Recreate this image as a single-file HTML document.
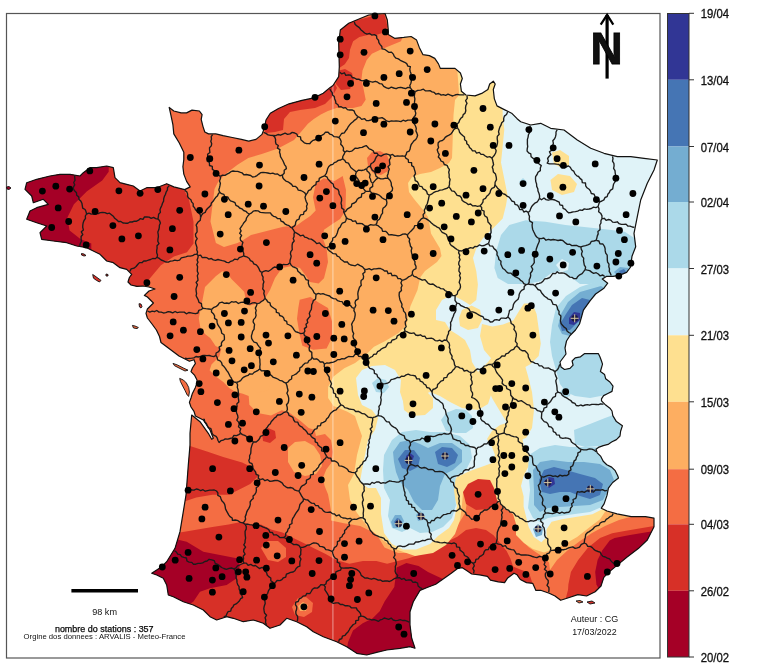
<!DOCTYPE html>
<html><head><meta charset="utf-8"><style>
html,body{margin:0;padding:0;background:#fff;width:766px;height:667px;overflow:hidden}
svg{position:absolute;left:0;top:0;display:block}
text{font-family:"Liberation Sans",Arial,sans-serif;fill:#111}
</style></head><body>
<svg width="766" height="667" viewBox="0 0 766 667">
<defs><clipPath id="fr"><path d="M385.0,13.5 L387.3,20.0 L388.2,29.0 L388.2,34.6 L394.6,38.3 L403.8,37.4 L411.1,36.5 L416.6,40.1 L419.3,47.4 L423.0,54.7 L429.4,55.6 L434.8,58.4 L438.5,63.9 L440.3,68.4 L447.6,68.4 L455.0,68.4 L460.4,73.0 L462.3,78.5 L460.4,84.0 L461.4,91.3 L465.9,95.0 L475.0,95.9 L482.4,93.1 L487.9,89.5 L489.7,84.0 L493.3,81.2 L495.2,84.0 L493.3,89.5 L494.3,98.6 L497.0,105.9 L504.3,109.6 L511.6,113.2 L517.1,118.7 L520.7,121.7 L530.7,125.0 L540.7,123.3 L550.7,128.3 L564.0,130.0 L577.3,140.0 L590.7,148.3 L604.0,153.3 L617.3,156.7 L630.7,156.7 L644.0,158.3 L657.3,160.0 L654.0,170.0 L647.3,183.3 L640.7,200.0 L637.3,216.7 L634.0,233.3 L635.7,246.7 L632.0,256.2 L630.6,267.0 L626.6,272.4 L619.8,275.1 L613.1,276.4 L606.3,276.4 L602.3,279.1 L607.7,283.2 L603.6,288.6 L595.6,294.0 L590.2,300.7 L583.4,310.2 L581.5,317.0 L579.5,324.0 L575.5,330.0 L570.0,335.5 L566.5,341.0 L565.0,348.0 L566.0,354.0 L563.0,358.0 L560.0,362.0 L561.0,367.0 L564.5,369.5 L570.0,368.3 L573.1,365.2 L572.1,361.0 L575.2,357.8 L580.5,356.8 L584.7,353.6 L598.3,353.6 L599.9,356.8 L601.5,361.0 L602.5,364.1 L600.4,371.5 L604.6,374.6 L605.7,378.8 L609.9,382.0 L613.0,386.2 L612.0,391.4 L607.8,393.5 L603.6,395.6 L601.5,398.8 L601.5,400.9 L605.7,405.1 L609.9,408.2 L612.0,411.0 L612.8,415.6 L616.4,421.6 L622.4,425.8 L620.6,431.2 L620.0,436.0 L616.4,439.6 L611.6,442.0 L608.0,444.4 L603.2,445.6 L598.4,447.4 L596.0,449.2 L597.2,452.8 L600.8,456.4 L603.2,461.2 L606.8,464.7 L611.6,467.1 L615.2,470.7 L617.6,475.5 L618.5,478.0 L612.7,482.5 L608.4,488.2 L607.0,495.4 L604.1,503.9 L601.3,508.2 L607.0,511.0 L617.0,513.9 L631.2,516.7 L645.5,516.7 L654.0,518.2 L654.0,526.7 L647.3,540.0 L638.3,548.6 L626.8,557.2 L618.2,564.4 L609.5,571.6 L603.8,577.4 L601.0,586.0 L595.2,591.7 L586.6,596.0 L577.9,594.6 L569.3,597.5 L560.7,600.3 L555.0,596.0 L549.2,593.2 L540.6,590.3 L535.9,590.4 L532.8,583.4 L526.5,582.6 L520.3,579.5 L517.1,574.8 L514.0,573.2 L507.7,577.9 L504.6,582.6 L498.3,581.8 L490.5,580.2 L487.4,576.3 L479.5,574.8 L471.7,574.0 L467.0,570.8 L462.3,567.7 L457.6,568.5 L451.3,573.2 L443.5,578.7 L435.7,584.2 L427.8,587.3 L420.0,590.4 L413.3,601.7 L410.0,611.7 L410.0,625.0 L411.7,638.3 L415.0,648.3 L410.0,646.7 L400.0,648.3 L386.7,650.0 L376.7,652.3 L366.7,655.0 L356.7,653.3 L346.7,646.7 L336.7,641.7 L323.3,636.7 L313.3,631.7 L306.7,626.7 L296.7,621.7 L286.7,618.3 L280.0,625.0 L270.0,628.3 L263.3,623.3 L253.3,620.0 L243.3,621.7 L233.3,618.3 L226.7,616.7 L216.7,620.0 L210.0,616.7 L203.3,610.0 L193.3,605.0 L183.3,601.7 L173.3,596.7 L168.3,595.0 L166.7,585.0 L163.3,578.3 L156.7,575.0 L151.7,573.3 L161.7,566.7 L166.7,561.7 L175.0,548.3 L180.0,531.7 L183.3,511.7 L186.0,495.0 L187.3,478.3 L188.3,465.0 L190.0,445.0 L190.0,433.3 L191.7,415.0 L200.0,421.7 L208.3,433.3 L211.7,439.3 L213.3,438.3 L210.0,430.0 L203.3,420.0 L195.4,416.0 L194.0,411.4 L191.0,407.0 L189.4,402.4 L191.0,398.0 L192.4,393.4 L195.4,387.4 L197.0,383.0 L197.0,380.0 L194.7,375.4 L191.0,371.7 L192.4,368.0 L195.4,363.4 L194.0,359.7 L189.4,361.2 L185.0,359.0 L179.0,356.0 L173.0,351.5 L167.0,347.0 L161.0,342.5 L159.5,336.5 L156.4,330.0 L152.0,324.0 L147.4,318.0 L146.0,313.4 L147.4,309.0 L150.4,306.0 L153.4,303.0 L147.4,297.0 L144.4,295.4 L149.0,291.0 L155.0,289.0 L149.0,287.0 L143.0,286.0 L137.0,286.4 L131.0,285.0 L128.0,282.0 L129.4,277.5 L131.7,274.3 L126.7,269.3 L120.0,267.7 L113.3,262.7 L106.7,261.0 L100.0,254.3 L93.3,251.0 L86.7,247.7 L76.7,246.0 L66.7,242.7 L53.3,241.0 L41.7,239.3 L40.0,232.7 L46.7,226.0 L36.7,222.7 L26.7,219.3 L30.0,211.0 L36.7,207.7 L48.3,204.3 L43.3,199.3 L33.3,202.7 L31.7,196.0 L25.0,189.3 L26.7,182.7 L36.7,179.3 L50.0,176.0 L60.0,174.3 L70.0,174.3 L80.0,176.0 L83.3,172.7 L90.0,167.7 L96.7,167.7 L106.7,166.0 L113.3,167.7 L115.0,177.7 L120.0,182.7 L126.7,184.3 L133.3,186.0 L140.0,191.0 L146.7,187.7 L156.7,187.7 L166.7,183.7 L173.8,186.9 L184.7,189.6 L190.2,186.9 L186.6,181.4 L183.8,174.1 L182.9,166.8 L183.8,159.5 L183.8,152.2 L179.3,143.0 L173.8,133.9 L172.9,124.7 L171.0,115.6 L169.2,107.4 L173.8,111.0 L181.1,112.9 L186.6,112.9 L192.0,110.1 L199.4,111.0 L202.1,114.7 L201.2,119.3 L203.0,126.6 L204.8,132.0 L208.5,133.9 L215.8,133.9 L223.1,135.7 L232.3,137.5 L241.4,139.4 L248.7,141.2 L256.0,139.4 L262.0,134.4 L264.4,128.0 L266.0,120.0 L270.3,113.2 L278.5,108.5 L289.1,103.8 L302.0,100.3 L313.8,97.9 L323.2,93.2 L330.2,87.4 L333.0,85.5 L338.7,76.7 L339.3,66.7 L338.7,43.3 L340.3,30.0 L348.7,23.3 L368.7,15.0Z"/></clipPath></defs>
<rect x="6.5" y="13.5" width="653.5" height="644.5" fill="none" stroke="#555" stroke-width="1.2"/>
<g clip-path="url(#fr)">
<rect x="0" y="0" width="766" height="667" fill="#fdae61"/>
<path fill="#f46d43" d="M0.0,90.0 L300.0,90.0 L302.0,130.8 L294.0,140.0 L278.0,148.6 L261.8,154.0 L248.3,158.0 L237.5,164.8 L226.7,172.9 L218.6,181.0 L214.5,189.1 L213.2,199.8 L211.8,210.6 L210.5,221.4 L213.2,232.2 L215.9,243.0 L224.0,247.1 L237.5,243.0 L242.9,240.3 L251.0,234.9 L261.8,232.2 L272.5,229.5 L283.3,226.8 L296.8,225.5 L302.2,221.4 L310.3,216.0 L315.7,210.6 L313.0,197.2 L315.7,183.7 L323.8,178.3 L334.6,181.0 L342.7,176.0 L346.0,190.0 L345.5,210.8 L340.1,218.9 L332.0,224.3 L324.0,229.7 L322.6,237.8 L326.6,248.6 L328.0,262.0 L324.0,278.2 L318.6,283.6 L310.0,282.0 L306.0,276.0 L300.0,268.0 L292.0,266.0 L282.0,268.0 L275.0,278.0 L270.0,290.0 L264.0,300.0 L256.0,304.0 L248.9,305.8 L245.8,299.5 L244.2,291.7 L238.0,285.4 L231.7,279.2 L227.0,272.9 L222.3,271.3 L216.0,276.0 L209.8,282.3 L205.0,287.0 L203.5,294.8 L202.0,302.7 L200.4,310.5 L198.8,318.3 L200.4,327.7 L205.0,334.0 L210.2,338.0 L215.6,346.0 L221.3,348.7 L219.4,356.6 L211.5,364.4 L209.6,370.3 L215.5,376.2 L223.3,382.0 L229.2,387.9 L235.0,391.8 L242.9,393.8 L248.7,396.0 L249.4,404.8 L257.5,412.9 L271.0,415.6 L281.8,410.2 L289.8,412.9 L300.6,421.0 L308.7,428.0 L314.7,430.0 L316.0,436.0 L325.0,434.0 L331.0,440.0 L333.0,452.0 L331.2,462.9 L326.3,469.5 L323.0,477.7 L324.6,486.0 L328.0,494.2 L329.6,502.5 L331.2,512.3 L331.0,520.5 L344.0,523.2 L360.2,525.9 L376.4,534.0 L384.5,547.5 L398.0,552.9 L411.4,552.9 L425.0,550.2 L435.7,544.8 L446.5,536.7 L457.3,525.9 L465.4,512.4 L468.0,495.0 L470.0,473.4 L480.2,472.1 L490.4,475.9 L495.5,481.0 L498.1,491.2 L503.2,501.4 L510.8,506.5 L518.5,511.6 L521.0,521.8 L518.5,532.0 L521.0,539.7 L528.7,547.3 L536.3,552.4 L544.0,557.5 L549.1,562.6 L550.0,570.0 L557.0,560.0 L568.0,550.0 L580.0,541.0 L592.0,533.0 L605.0,526.0 L619.0,520.0 L630.0,517.0 L660.0,516.0 L700.0,516.0 L700.0,700.0 L0.0,700.0Z"/>
<path fill="#f46d43" d="M299.7,299.8 L310.5,297.1 L318.6,302.5 L328.0,307.9 L332.0,321.4 L332.0,337.6 L326.6,348.4 L313.2,349.7 L302.4,345.7 L299.7,334.9 L297.0,318.7 L298.3,307.9Z"/>
<path fill="#f46d43" d="M270.0,100.0 L283.3,130.0 L302.0,130.8 L307.9,123.8 L313.8,119.1 L320.8,114.4 L327.9,110.9 L336.4,108.1 L344.8,108.1 L353.1,108.1 L361.5,106.0 L365.7,99.8 L363.6,89.3 L361.5,78.9 L362.5,70.5 L366.7,60.1 L371.9,53.8 L380.3,49.7 L390.7,45.5 L401.0,41.3 L405.0,30.0 L400.0,0.0 L300.0,0.0Z"/>
<path fill="#f46d43" d="M367.0,158.0 L372.0,152.0 L380.0,151.0 L387.0,155.0 L390.0,163.0 L388.0,171.0 L381.0,175.0 L373.0,173.0 L368.0,166.0Z"/>
<path fill="#fdae61" d="M249.0,372.0 L258.0,366.0 L268.0,368.0 L272.0,378.0 L268.0,390.0 L257.0,393.0 L250.0,386.0Z"/>
<path fill="#fdae61" d="M288.0,448.0 L295.0,442.0 L305.0,441.0 L314.0,446.0 L320.0,455.0 L322.0,466.0 L316.0,474.0 L305.0,476.0 L294.0,472.0 L288.0,462.0Z"/>
<path fill="#d73027" d="M182.6,187.0 L189.1,200.0 L193.5,221.7 L193.5,243.5 L187.0,252.2 L173.9,256.5 L160.9,265.2 L150.0,278.3 L143.5,287.0 L120.0,300.0 L0.0,300.0 L0.0,150.0 L160.0,150.0 L170.0,185.0Z"/>
<path fill="#d73027" d="M339.6,28.8 L346.9,22.5 L363.6,18.4 L371.9,16.3 L384.4,14.2 L387.6,26.7 L382.3,33.0 L376.1,35.0 L367.7,35.0 L359.4,37.1 L353.1,41.3 L350.0,49.7 L349.0,58.0 L344.8,64.3 L338.5,68.5 L330.0,60.0 L330.0,20.0Z"/>
<path fill="#d73027" d="M337.0,71.0 L345.0,69.0 L352.0,73.0 L354.0,81.0 L350.0,89.0 L341.0,90.0 L336.0,84.0Z"/>
<path fill="#d73027" d="M262.0,127.0 L266.0,133.0 L275.0,132.0 L283.0,130.0 L284.0,119.0 L290.0,112.0 L300.0,110.0 L315.0,108.0 L325.0,104.0 L332.0,97.0 L337.0,88.0 L333.0,80.0 L325.0,85.0 L313.0,93.0 L300.0,96.0 L285.0,100.0 L272.0,106.0 L262.0,118.0Z"/>
<path fill="#d73027" d="M150.0,436.0 L180.0,438.0 L190.8,446.2 L207.0,451.6 L223.2,457.0 L242.1,462.4 L252.9,467.8 L258.3,475.9 L250.2,484.0 L239.4,489.4 L228.6,494.8 L212.4,494.8 L196.2,497.5 L188.1,500.2 L180.0,502.9 L150.0,503.0Z"/>
<path fill="#d73027" d="M262.0,432.0 L268.0,428.0 L275.0,431.0 L276.0,438.0 L270.0,443.0 L263.0,441.0Z"/>
<path fill="#d73027" d="M150.0,532.0 L180.0,532.6 L196.2,529.8 L212.4,527.1 L228.6,524.5 L242.1,521.8 L250.2,524.5 L261.0,524.5 L271.8,529.8 L282.5,532.6 L293.3,538.0 L304.1,543.3 L314.9,548.7 L325.7,554.1 L336.0,560.0 L349.4,563.7 L362.9,561.0 L376.4,561.0 L387.1,563.7 L397.9,561.0 L408.7,558.3 L424.9,552.9 L435.7,547.5 L446.5,542.1 L457.3,536.7 L466.0,530.0 L476.0,528.0 L486.0,530.0 L493.5,535.2 L500.0,543.0 L506.6,550.9 L510.5,558.7 L513.1,566.6 L519.6,569.2 L526.1,571.8 L530.0,575.7 L532.0,582.0 L534.0,600.0 L545.0,700.0 L150.0,700.0Z"/>
<path fill="#f46d43" d="M292.0,607.0 L298.0,598.0 L306.0,597.0 L313.0,603.0 L312.0,612.0 L304.0,617.0 L295.0,615.0Z"/>
<path fill="#fdae61" d="M298.0,606.0 L303.0,602.0 L308.0,605.0 L306.0,611.0 L300.0,611.0Z"/>
<path fill="#d73027" d="M568.0,590.0 L568.4,584.2 L570.9,572.0 L578.2,559.9 L587.9,547.7 L600.0,538.0 L612.2,533.2 L626.0,530.7 L660.0,525.0 L660.0,620.0 L560.0,620.0Z"/>
<path fill="#d73027" d="M462.0,488.0 L468.0,479.0 L478.0,475.0 L490.0,477.0 L498.0,483.0 L501.0,493.0 L497.0,503.0 L488.0,509.0 L476.0,510.0 L466.0,504.0Z"/>
<path fill="#a50026" d="M108.7,160.0 L108.7,171.7 L102.2,180.4 L87.0,191.3 L73.9,204.3 L67.4,217.4 L69.6,230.4 L80.4,239.1 L91.3,243.5 L91.3,260.0 L0.0,260.0 L0.0,160.0Z"/>
<path fill="#a50026" d="M150.0,544.0 L171.7,538.3 L186.7,541.7 L203.3,551.7 L220.0,555.0 L236.7,558.3 L240.0,565.0 L236.7,578.3 L226.7,585.0 L210.0,588.3 L200.0,591.7 L193.3,601.7 L180.0,610.0 L150.0,610.0Z"/>
<path fill="#a50026" d="M396.7,567.4 L406.4,563.0 L418.6,566.0 L428.0,572.0 L445.0,580.0 L445.0,660.0 L345.0,660.0 L348.1,642.0 L353.0,630.6 L362.7,623.3 L372.4,618.4 L379.7,611.2 L384.6,601.4 L389.4,594.2 L394.3,586.9 L395.5,577.2Z"/>
<path fill="#f46d43" d="M261.0,548.0 L268.0,541.0 L278.0,541.0 L286.0,548.0 L286.0,557.0 L278.0,562.0 L268.0,560.0Z"/>
<path fill="#a50026" d="M614.6,538.0 L630.0,535.0 L660.0,530.0 L660.0,600.0 L600.0,591.4 L596.4,584.2 L595.2,572.0 L597.6,559.9 L602.4,550.2 L609.7,540.4Z"/>
<path fill="#fee090" d="M455.0,40.0 L459.2,95.1 L455.0,100.0 L453.5,115.0 L453.0,130.0 L452.5,145.0 L452.0,158.0 L449.0,163.0 L440.0,168.0 L431.0,172.0 L420.0,174.0 L412.0,177.0 L408.0,183.0 L409.0,192.0 L414.0,199.0 L419.0,205.0 L424.0,211.0 L428.0,217.0 L429.5,224.5 L431.0,233.5 L435.5,241.0 L440.0,248.5 L441.5,256.0 L437.0,262.0 L431.0,266.5 L425.0,271.0 L420.5,277.0 L419.0,283.0 L417.5,290.0 L410.4,306.2 L406.4,325.1 L398.3,333.2 L384.8,341.3 L374.0,346.7 L365.9,354.8 L355.1,362.9 L344.3,368.3 L333.5,376.4 L328.1,387.1 L328.1,397.9 L333.5,406.0 L347.0,411.4 L355.0,416.0 L358.0,425.0 L362.0,436.0 L357.0,455.0 L354.0,474.0 L348.0,485.0 L350.0,500.0 L357.0,513.0 L367.0,526.0 L380.0,538.0 L395.0,549.0 L415.0,556.0 L433.0,553.0 L446.0,545.0 L455.0,534.0 L460.0,520.0 L462.0,505.0 L463.0,492.0 L468.0,484.0 L478.0,479.0 L490.0,480.0 L494.0,488.0 L497.0,500.0 L504.0,508.0 L513.0,514.0 L516.0,524.0 L516.0,535.0 L524.0,543.0 L533.0,549.0 L544.0,552.4 L559.3,547.3 L577.1,537.1 L589.9,526.9 L600.1,519.3 L605.2,511.6 L612.8,506.5 L623.0,506.5 L635.8,509.1 L653.6,511.6 L700.0,505.0 L700.0,0.0 L455.0,0.0Z"/>
<path fill="#e0f3f8" d="M502.0,60.0 L502.7,116.3 L504.3,129.5 L502.7,146.0 L501.0,162.5 L504.3,179.0 L507.6,195.4 L506.0,205.3 L502.7,218.5 L492.8,228.4 L482.9,238.3 L476.3,248.2 L473.0,258.1 L476.3,271.3 L477.9,284.5 L476.3,300.0 L470.0,305.0 L462.0,300.0 L452.0,295.0 L442.0,300.0 L436.0,310.0 L436.0,320.0 L445.0,322.0 L450.0,330.0 L458.0,335.0 L465.0,340.0 L470.0,350.0 L472.0,362.0 L478.0,372.0 L488.0,380.0 L492.0,392.0 L488.0,404.0 L478.0,410.0 L462.0,408.0 L450.0,402.0 L440.0,396.0 L430.0,392.0 L420.0,396.0 L414.0,404.0 L404.0,404.0 L400.0,392.0 L401.0,380.0 L395.0,370.0 L385.0,365.0 L372.0,366.0 L362.0,370.0 L356.0,378.0 L358.0,395.0 L362.0,405.0 L372.0,410.0 L378.0,418.0 L375.0,430.0 L368.0,440.0 L365.0,455.0 L362.0,470.0 L360.0,482.0 L368.0,488.0 L376.0,488.0 L381.0,498.0 L381.0,514.0 L384.0,533.0 L392.0,544.0 L403.0,549.5 L416.0,549.5 L430.0,544.0 L438.0,536.0 L449.0,528.0 L454.0,520.0 L457.0,506.0 L454.0,496.0 L451.0,485.0 L457.0,477.0 L470.0,471.0 L484.0,466.0 L492.0,463.0 L495.0,455.0 L492.0,447.0 L487.0,439.0 L492.0,431.0 L500.0,425.0 L510.0,422.0 L521.0,430.0 L523.6,445.3 L528.7,455.5 L528.7,465.7 L523.6,475.9 L521.0,486.1 L523.6,496.3 L523.6,506.5 L526.1,516.7 L528.7,526.9 L533.8,537.1 L541.4,542.2 L546.5,537.1 L546.5,529.5 L551.6,521.8 L561.8,519.3 L577.1,516.7 L592.4,514.2 L602.6,509.1 L609.0,504.0 L640.0,500.0 L700.0,500.0 L700.0,60.0Z"/>
<path fill="#fee090" d="M478.0,372.0 L488.0,362.0 L496.0,352.0 L500.0,340.0 L506.0,332.0 L514.0,336.0 L520.0,348.0 L524.0,362.0 L528.0,376.0 L532.0,392.0 L534.0,410.0 L532.0,428.0 L526.0,438.0 L520.0,440.0 L512.0,430.0 L504.0,418.0 L498.0,408.0 L492.0,398.0 L488.0,388.0Z"/>
<path fill="#fee090" d="M482.0,324.0 L492.5,326.6 L503.0,324.5 L513.5,320.3 L519.8,309.8 L524.0,303.5 L532.4,303.5 L536.6,314.0 L538.7,328.7 L540.8,343.4 L538.7,356.0 L530.3,364.3 L519.8,370.0 L503.0,370.0 L492.5,360.0 L484.0,350.0 L480.0,336.0Z"/>
<path fill="#fee090" d="M459.0,318.0 L462.0,310.0 L471.5,305.6 L480.0,309.8 L482.0,320.0 L478.0,328.0 L468.0,330.0 L460.0,326.0Z"/>
<path fill="#fee090" d="M552.0,152.5 L560.0,150.0 L569.0,156.0 L569.0,165.0 L562.0,168.0 L554.0,164.0Z"/>
<path fill="#fee090" d="M550.5,180.0 L558.0,174.0 L570.0,176.0 L577.0,184.0 L574.0,192.0 L562.0,195.0 L552.0,190.0Z"/>
<path fill="#fee090" d="M401.0,333.0 L412.0,330.0 L425.0,334.0 L436.0,340.0 L441.0,350.0 L441.0,362.0 L436.0,374.0 L428.0,382.0 L415.0,382.0 L405.0,376.0 L400.0,365.0 L398.0,350.0Z"/>
<path fill="#fee090" d="M402.0,392.0 L412.0,388.0 L425.0,390.0 L433.0,398.0 L433.0,408.0 L425.0,415.0 L412.0,416.0 L404.0,410.0Z"/>
<path fill="#abd9e9" d="M501.0,235.0 L509.3,225.1 L525.8,220.2 L545.5,221.8 L565.3,225.1 L581.8,226.8 L598.3,228.4 L611.5,230.1 L624.7,231.7 L634.6,238.3 L640.0,250.0 L635.0,262.0 L630.0,270.0 L620.0,276.0 L605.0,280.0 L590.0,284.0 L580.0,284.0 L572.7,278.6 L561.9,270.5 L551.1,273.2 L540.3,281.3 L526.8,284.0 L508.0,284.0 L497.7,277.9 L494.4,268.0 L496.1,251.5Z"/>
<path fill="#e0f3f8" d="M556.0,265.0 L562.0,259.0 L569.0,263.0 L568.0,270.0 L561.0,272.0Z"/>
<path fill="#abd9e9" d="M519.0,182.0 L523.0,178.0 L527.0,182.0 L523.0,186.0Z"/>
<path fill="#abd9e9" d="M601.0,280.0 L610.0,283.0 L605.0,292.0 L596.0,300.0 L590.0,308.0 L584.0,318.0 L580.0,328.0 L575.0,338.0 L572.0,348.0 L576.0,356.0 L584.0,353.6 L598.3,353.6 L602.0,362.0 L601.0,371.0 L605.0,375.0 L606.0,379.0 L610.0,382.0 L613.0,386.0 L612.0,391.0 L606.0,395.0 L590.0,398.0 L575.0,396.0 L566.0,392.0 L560.0,384.0 L556.0,370.0 L552.0,356.0 L550.0,342.0 L552.0,325.0 L556.0,308.0 L566.0,296.0 L580.0,287.0Z"/>
<path fill="#abd9e9" d="M562.0,391.0 L566.0,386.0 L571.0,389.0 L570.0,395.0 L564.0,396.0Z"/>
<path fill="#abd9e9" d="M574.0,430.0 L590.0,424.0 L605.0,418.0 L616.0,414.0 L621.0,425.0 L620.0,436.0 L612.0,442.0 L600.0,446.0 L585.0,447.0 L575.0,444.0Z"/>
<path fill="#74add1" d="M601.0,286.0 L606.0,289.0 L598.0,298.0 L590.0,308.0 L583.0,320.0 L577.0,330.0 L570.0,336.0 L562.0,334.0 L558.0,326.0 L561.0,314.0 L568.0,302.0 L580.0,292.0Z"/>
<path fill="#4575b4" d="M566.0,314.0 L572.0,305.0 L582.0,298.0 L590.0,300.0 L585.0,312.0 L578.0,322.0 L570.0,330.0 L562.0,331.0 L560.0,324.0Z"/>
<path fill="#313695" d="M569.0,318.0 L574.0,312.0 L580.0,313.0 L580.0,320.0 L574.0,325.0 L569.0,324.0Z"/>
<path fill="#74add1" d="M614.0,272.0 L620.0,267.0 L628.0,268.0 L628.0,276.0 L620.0,279.0Z"/>
<path fill="#4575b4" d="M619.0,271.0 L624.0,269.0 L627.0,273.0 L622.0,276.0Z"/>
<path fill="#abd9e9" d="M529.0,455.0 L540.0,448.0 L555.0,445.0 L570.0,447.0 L590.0,447.0 L605.0,448.0 L611.0,454.0 L617.0,466.0 L618.0,478.0 L612.0,486.0 L607.0,496.0 L604.0,506.0 L590.0,512.0 L575.0,514.0 L560.0,516.0 L548.0,518.0 L540.0,522.0 L533.0,518.0 L528.0,508.0 L530.0,490.0 L528.0,470.0Z"/>
<path fill="#74add1" d="M533.0,470.0 L540.0,462.0 L552.0,460.0 L568.0,462.0 L584.0,462.0 L600.0,464.0 L610.0,470.0 L614.0,480.0 L608.0,490.0 L603.0,500.0 L590.0,505.0 L575.0,506.0 L560.0,507.0 L548.0,508.0 L540.0,512.0 L534.0,505.0 L534.0,490.0Z"/>
<path fill="#4575b4" d="M539.0,480.0 L544.0,470.0 L554.0,467.0 L566.0,470.0 L580.0,474.0 L595.0,478.0 L603.0,484.0 L600.0,495.0 L590.0,499.0 L580.0,496.0 L570.0,492.0 L560.0,492.0 L550.0,494.0 L542.0,492.0Z"/>
<path fill="#313695" d="M544.0,482.0 L549.0,477.0 L554.0,478.0 L555.0,484.0 L549.0,488.0Z"/>
<path fill="#74add1" d="M533.0,529.0 L538.0,524.0 L543.0,528.0 L542.0,535.0 L536.0,537.0Z"/>
<path fill="#4575b4" d="M536.0,530.0 L539.0,527.0 L541.0,531.0 L538.0,533.0Z"/>
<path fill="#abd9e9" d="M384.0,455.0 L392.0,440.0 L402.0,432.0 L416.0,430.0 L430.0,432.0 L445.0,432.0 L460.0,436.0 L470.0,445.0 L472.0,458.0 L466.0,470.0 L456.0,476.0 L454.0,490.0 L456.0,505.0 L452.0,518.0 L443.0,527.0 L432.0,532.0 L420.0,533.0 L410.0,528.0 L402.0,532.0 L392.0,528.0 L388.0,516.0 L390.0,500.0 L384.0,488.0 L383.0,470.0Z"/>
<path fill="#74add1" d="M393.0,452.0 L400.0,442.0 L410.0,440.0 L420.0,444.0 L428.0,448.0 L440.0,443.0 L452.0,443.0 L462.0,450.0 L462.0,462.0 L453.0,470.0 L445.0,474.0 L440.0,486.0 L438.0,500.0 L432.0,510.0 L422.0,510.0 L414.0,502.0 L408.0,490.0 L400.0,482.0 L396.0,472.0 L394.0,462.0Z"/>
<path fill="#4575b4" d="M398.0,459.0 L405.0,450.0 L414.0,450.0 L420.0,458.0 L418.0,467.0 L410.0,471.0 L402.0,468.0Z"/>
<path fill="#4575b4" d="M435.0,452.0 L442.0,447.0 L452.0,448.0 L458.0,455.0 L455.0,463.0 L447.0,467.0 L438.0,464.0Z"/>
<path fill="#313695" d="M406.0,456.0 L410.0,453.0 L414.0,456.0 L412.0,462.0 L407.0,462.0Z"/>
<path fill="#74add1" d="M391.0,522.0 L395.0,515.0 L401.0,515.0 L404.0,521.0 L400.0,528.0 L393.0,528.0Z"/>
<path fill="#4575b4" d="M394.0,522.0 L397.0,518.0 L400.0,519.0 L401.0,524.0 L397.0,526.0Z"/>
<path fill="#74add1" d="M416.0,515.0 L420.0,511.0 L424.0,514.0 L423.0,520.0 L418.0,521.0Z"/>
<path fill="#abd9e9" d="M372.0,383.0 L378.0,378.0 L386.0,380.0 L389.0,387.0 L384.0,393.0 L376.0,392.0Z"/>
<path fill="#abd9e9" d="M560.0,392.0 L565.0,386.0 L571.0,389.0 L570.0,396.0 L564.0,398.0Z"/>
<path fill="#abd9e9" d="M441.0,420.0 L446.0,413.0 L456.0,409.0 L466.0,410.0 L472.0,416.0 L473.0,428.0 L466.0,433.0 L456.0,433.0 L446.0,431.0Z"/>
<line x1="332.9" y1="0" x2="332.9" y2="667" stroke="#fff" stroke-opacity="0.4" stroke-width="1.3"/>
</g>
<g stroke="#111" stroke-width="0.9"><path fill="#f46d43" d="M173.0,363.4 L177.5,365.0 L183.4,368.0 L188.0,370.2 L185.0,371.0 L179.0,368.0 L174.5,365.7Z"/>
<path fill="#f46d43" d="M179.7,378.4 L183.4,380.0 L186.4,383.0 L188.7,387.4 L189.4,392.0 L188.7,396.4 L187.2,395.0 L185.0,390.4 L182.7,386.0 L180.4,381.4Z"/>
<path fill="#d73027" d="M92.7,274.5 L95.0,276.0 L98.0,278.2 L101.0,280.4 L99.5,282.0 L96.5,280.4 L93.5,278.2Z"/>
<path fill="#d73027" d="M81.5,253.5 L84.0,254.0 L86.0,255.5 L84.0,256.0 L81.5,255.0Z"/>
<path fill="#d73027" d="M139.0,303.7 L141.0,304.0 L142.0,306.5 L141.0,308.0 L139.5,307.0Z"/>
<path fill="#f46d43" d="M132.4,325.4 L135.0,326.0 L138.4,327.5 L137.0,328.6 L133.5,328.0Z"/>
<path fill="#a50026" d="M6.5,187.0 L9.0,186.5 L11.0,188.0 L9.0,189.5 L7.0,189.0Z"/>
<path fill="#d73027" d="M106.0,274.0 L108.0,274.5 L108.0,276.0 L106.0,276.0Z"/>
<path fill="#f46d43" d="M576.0,601.0 L580.0,600.5 L583.0,602.0 L579.0,603.0Z"/>
<path fill="#d73027" d="M587.0,602.0 L592.0,601.0 L595.0,603.0 L590.0,604.0Z"/></g>
<g fill="none" stroke="#1c1c1c" stroke-width="1.35" stroke-linejoin="round">
<path d="M74.6,175.9 L74.8,178.1 L75.0,180.4 L73.7,182.5 L74.7,184.8 L73.5,186.9 L73.4,189.1 L74.8,191.0 L76.5,192.8 L76.7,195.3 L78.7,196.9 L79.0,199.4 L80.8,201.1 L81.9,203.2 L82.3,205.6 L82.7,208.1 L85.1,209.5 L86.0,211.6 L86.6,214.0"/>
<path d="M79.6,245.7 L80.3,243.5 L81.4,241.3 L81.1,238.9 L81.1,236.5 L82.8,234.5 L81.3,231.8 L83.4,229.9 L82.7,227.3 L82.8,225.0 L83.2,222.7 L84.0,220.5 L85.5,218.4 L85.3,216.0 L86.6,214.0"/>
<path d="M86.6,214.0 L88.9,213.2 L91.2,214.0 L93.5,214.1 L95.8,213.4 L98.1,213.7 L100.3,212.6 L102.6,212.5 L104.9,212.7 L107.2,213.7 L109.5,213.2 L111.4,214.7 L113.3,216.2 L114.7,218.3 L116.7,219.8 L118.4,221.5 L120.9,221.5 L123.0,223.0 L125.4,223.2 L127.9,223.2 L129.8,222.0 L132.2,222.0 L134.3,221.2 L136.6,221.2 L138.6,220.2 L140.4,218.6 L143.0,219.4 L144.5,216.9 L146.9,217.0 L149.1,217.2 L151.2,218.4 L153.6,217.4 L155.7,218.6 L157.9,219.0"/>
<path d="M129.9,271.4 L131.1,268.9 L134.0,268.2 L136.1,266.5 L137.7,264.5 L139.5,262.6 L141.9,262.7 L143.8,260.9 L146.2,261.0 L148.4,260.1 L150.6,259.5 L152.7,258.5 L155.1,258.7 L157.1,257.3"/>
<path d="M147.6,311.0 L149.8,312.1 L152.2,311.2 L154.4,311.7 L156.8,310.5 L159.0,312.1 L161.3,312.1 L163.5,313.0 L165.8,312.7 L168.2,311.7 L170.5,312.0 L172.7,312.8 L175.1,311.5 L177.3,312.6 L179.6,312.1 L181.9,312.1 L184.2,312.1 L186.4,313.8 L188.8,312.5 L191.1,312.9 L193.3,313.3 L195.6,313.7 L197.9,313.0 L198.8,310.3 L201.1,309.6 L203.0,308.3"/>
<path d="M157.1,257.3 L159.3,258.4 L161.2,260.0 L163.5,260.9 L165.7,262.0 L168.3,262.2 L170.4,261.1 L172.7,260.8 L174.8,260.1 L177.3,260.6 L179.6,260.1 L181.3,257.8 L183.5,257.3 L185.7,256.8 L187.9,256.2 L190.3,256.1 L192.6,255.7 L194.6,254.4 L196.9,254.3"/>
<path d="M157.9,219.0 L159.5,220.6 L160.4,223.0 L159.4,225.2 L159.3,227.5 L158.8,229.8 L157.8,232.0 L158.2,234.3 L158.4,236.7 L158.0,238.9 L157.8,241.2 L159.0,243.6 L157.0,245.8 L157.1,248.1 L156.7,250.4 L156.7,252.7 L157.5,255.0 L157.1,257.3"/>
<path d="M157.9,219.0 L158.4,216.7 L158.6,214.3 L160.4,212.4 L160.0,209.8 L160.8,207.6 L161.8,205.5 L162.5,203.2 L163.6,201.1 L163.7,198.7 L164.4,196.4 L165.5,194.3 L166.1,192.1 L167.4,190.0 L167.5,187.6 L169.2,185.7"/>
<path d="M234.0,568.9 L231.5,568.0 L229.0,568.4 L226.4,569.4 L223.9,568.5 L221.6,567.5 L219.6,565.9 L217.6,564.4 L215.3,563.4 L214.2,560.6 L211.7,559.8 L209.1,559.3 L207.1,561.0 L204.8,561.5 L202.7,562.9 L200.4,563.4 L198.0,563.4 L195.7,564.2 L193.3,564.2 L191.8,562.3 L189.1,562.1 L187.0,561.0 L186.4,558.0 L183.9,557.4 L181.6,556.7 L180.2,554.7 L177.7,554.2 L176.4,552.0 L174.5,550.7"/>
<path d="M200.6,217.4 L200.4,214.9 L199.0,213.1 L197.6,211.4 L195.6,210.0 L194.7,207.9 L193.2,206.2 L193.2,203.6 L191.6,201.9 L190.9,199.7 L188.9,198.3 L187.6,196.5 L187.6,193.9 L186.8,191.8 L184.7,190.4"/>
<path d="M185.0,358.1 L187.3,358.7 L189.5,358.4 L191.7,358.2 L193.9,357.9 L196.0,356.5 L198.2,357.0 L200.4,356.4 L202.6,355.5 L204.8,355.3 L207.0,355.7 L209.2,355.5 L211.5,356.2 L213.8,356.6 L215.9,355.4"/>
<path d="M243.1,522.9 L240.4,522.4 L238.0,520.7 L235.3,520.0 L232.4,520.4 L232.2,518.0 L230.0,516.6 L228.7,514.8 L227.6,512.8 L226.5,510.9 L225.5,508.9 L225.2,506.6 L224.7,504.3 L223.5,502.4 L221.8,500.8 L221.0,498.7 L220.3,496.6 L217.8,495.4 L217.9,492.8 L216.5,491.0 L214.3,490.0 L212.0,490.2 L209.8,490.1 L207.5,490.6 L205.2,491.2 L203.0,489.7 L200.7,490.6 L198.5,489.5 L196.3,489.0 L194.0,490.2 L191.7,490.0 L189.5,488.7 L187.2,489.6"/>
<path d="M196.9,254.3 L198.2,255.6"/>
<path d="M200.6,217.4 L200.3,220.2 L197.8,222.3 L196.1,225.1 L196.9,227.3 L197.0,229.6 L197.1,231.8 L195.5,234.1 L195.7,236.3 L197.2,238.6 L195.8,240.8 L195.5,243.1 L196.3,245.3 L197.0,247.6 L196.7,249.8 L197.6,252.0 L196.9,254.3"/>
<path d="M198.2,255.6 L200.6,255.1 L202.3,257.6 L204.7,257.4 L206.9,257.7 L208.9,259.1 L211.3,258.5 L213.3,259.9 L215.5,260.4 L218.0,259.5 L220.2,260.1 L222.3,260.7 L224.6,261.1 L226.6,262.4 L228.8,262.7 L230.7,261.3 L233.0,260.6 L234.8,259.1 L237.6,259.7 L239.2,257.6 L241.4,256.9 L243.6,256.0"/>
<path d="M198.2,255.6 L197.9,257.8 L197.1,260.0 L198.0,262.3 L196.8,264.5 L197.6,266.8 L197.4,269.0 L197.3,271.2 L198.3,273.5 L197.3,275.7 L197.7,278.0 L198.0,280.2 L196.1,282.4 L197.4,284.7 L196.6,286.9 L196.0,289.1 L196.2,291.3 L196.6,293.6 L196.1,295.8 L197.2,297.9 L198.3,300.0 L199.0,302.4 L201.5,303.7 L201.7,306.3 L203.0,308.3"/>
<path d="M200.6,217.4 L201.5,215.3 L202.9,213.5 L205.2,212.4 L206.1,210.2 L207.5,208.5 L209.2,206.9 L210.9,205.3 L211.4,202.9 L213.1,201.3 L214.3,199.4 L215.6,197.6 L217.3,196.1 L218.3,193.9 L219.7,192.2"/>
<path d="M203.0,308.3 L205.8,308.7 L208.7,309.0 L211.5,309.4"/>
<path d="M203.3,419.1 L204.3,419.4 L204.7,421.8 L206.4,423.5 L207.3,425.6 L208.4,427.6 L210.9,428.7 L211.6,431.0 L212.1,433.4 L213.5,435.2 L216.1,436.3 L217.3,438.2 L218.0,440.5 L219.1,442.5 L220.9,440.7 L223.2,440.2 L225.2,438.9 L227.9,439.2 L230.1,438.5 L232.4,437.8 L233.9,435.4 L236.6,435.7 L238.7,434.6 L240.7,433.4"/>
<path d="M215.9,355.4 L216.1,353.0 L218.6,351.7 L219.7,349.8 L219.1,347.1 L221.5,345.7 L221.4,343.2 L222.5,341.2 L224.4,339.7 L224.4,337.2 L224.1,334.8 L221.7,333.2 L221.3,330.8 L220.5,328.6 L219.1,326.7 L217.8,324.7 L217.1,322.4 L216.9,319.9 L214.5,318.4 L214.6,315.8 L213.4,313.7 L211.5,312.0 L211.5,309.4"/>
<path d="M211.5,309.4 L213.4,307.7 L215.9,306.7 L217.9,305.1 L219.4,302.8 L222.1,302.2 L224.4,303.4 L226.7,303.0 L229.1,303.5 L231.5,301.7 L233.8,302.2 L236.1,301.7 L238.4,303.5 L240.8,302.4 L243.1,302.2 L245.4,303.0 L247.7,304.1 L250.1,304.0 L252.5,302.9 L254.8,302.7 L257.1,303.6"/>
<path d="M212.6,134.7 L211.2,136.7 L211.5,139.1 L210.8,141.2 L211.7,143.7 L211.3,145.9 L209.5,147.8 L209.6,150.1 L209.9,152.5 L207.6,154.3 L207.8,156.6 L207.0,158.8 L207.2,161.1 L209.4,162.5 L209.5,165.5 L212.3,166.4 L212.4,169.4 L214.6,170.8 L216.2,172.5 L217.4,174.7 L220.5,176.4"/>
<path d="M215.9,355.4 L217.1,357.4 L217.6,359.8 L220.1,360.9 L221.6,362.6 L222.2,365.0 L224.0,366.6 L225.4,368.4 L226.6,370.4 L228.1,372.2 L229.1,374.3 L230.1,376.3 L231.4,378.2 L232.3,380.4 L234.1,382.0 L236.5,382.5"/>
<path d="M249.6,214.0 L247.5,213.0 L245.9,211.3 L243.6,210.5 L241.9,208.8 L239.6,208.0 L238.1,206.3 L235.9,205.3 L235.0,202.7 L232.8,201.6 L230.5,200.9 L229.0,199.1 L227.7,196.9 L224.8,197.0 L223.9,194.4 L221.5,193.7 L219.7,192.2"/>
<path d="M220.5,176.4 L220.4,178.7 L219.5,180.9 L220.4,183.2 L220.0,185.4 L219.5,187.7 L218.8,189.9 L219.7,192.2"/>
<path d="M220.5,176.4 L222.5,175.2 L225.0,175.3 L227.0,174.1 L229.0,173.1 L230.9,171.7 L233.1,171.0 L235.4,171.3 L237.7,171.4 L239.8,172.2 L242.0,172.8 L243.8,174.8 L246.3,174.5 L248.5,175.0 L250.7,175.5 L252.6,177.0 L255.0,176.6 L257.0,175.6 L258.8,174.1 L260.6,172.7 L263.1,172.5 L265.5,172.6 L267.9,173.0 L270.3,173.6 L272.8,173.2 L275.1,174.1 L277.6,174.0 L279.9,175.8 L282.4,175.0"/>
<path d="M223.7,616.9 L226.0,616.0 L226.9,613.8 L228.0,611.7 L230.7,611.2 L231.3,608.6 L232.9,607.0 L233.9,604.9 L236.1,603.9 L237.8,602.4 L239.5,600.8 L240.6,598.7 L242.6,597.6 L241.9,595.4 L240.2,593.5 L240.1,591.1 L239.1,589.0 L239.1,586.6 L237.7,584.6 L237.0,582.4 L236.9,580.1 L236.1,577.9 L236.2,575.5 L235.4,573.3 L235.2,570.9 L234.0,568.9"/>
<path d="M243.9,563.1 L241.7,564.0 L239.7,565.0 L237.5,565.9 L236.1,567.9 L234.0,568.9"/>
<path d="M240.7,433.4 L239.8,431.2 L240.8,428.7 L238.5,426.8 L239.2,424.3 L238.6,422.1 L236.8,420.1 L238.0,417.5 L237.6,415.2 L236.6,413.0 L236.3,410.7 L235.3,408.6 L237.1,406.7 L236.9,403.8 L238.8,402.0 L238.6,399.6 L238.2,397.1 L238.7,394.6 L238.3,392.2 L238.1,389.7 L237.3,387.4 L237.6,384.8 L236.5,382.5"/>
<path d="M236.5,382.5 L238.7,381.7 L240.6,380.6 L242.1,378.6 L243.8,377.1 L245.8,376.1 L248.0,375.4 L249.7,373.8 L252.5,374.1 L254.1,372.4 L256.1,371.4 L258.1,370.3 L259.9,368.9"/>
<path d="M253.5,442.0 L251.9,440.4 L249.8,439.6 L247.4,439.2 L246.6,436.5 L244.7,435.4 L242.5,434.6 L240.7,433.4"/>
<path d="M245.3,524.5 L243.1,522.9"/>
<path d="M260.2,479.6 L259.9,479.8 L259.0,481.8 L258.0,483.8 L258.4,486.3 L256.2,487.8 L256.4,490.3 L256.0,492.5 L254.8,494.4 L253.0,496.0 L253.3,498.5 L251.4,500.1 L250.1,502.0 L250.3,504.4 L249.7,506.6 L248.7,508.6 L247.5,510.4 L246.6,512.4 L246.1,514.6 L245.2,516.6 L245.6,519.1 L244.6,521.1 L243.1,522.9"/>
<path d="M243.6,256.0 L246.7,256.8 L249.3,258.5 L250.4,260.6 L252.7,261.7 L253.8,263.9 L256.3,264.8 L257.8,266.7 L259.0,268.7 L259.9,271.1 L261.7,272.6"/>
<path d="M249.6,214.0 L247.9,215.9 L246.5,218.0 L245.9,220.6 L244.1,222.4 L242.8,224.5 L241.4,226.6 L240.0,228.7 L241.1,230.9 L239.7,233.4 L241.6,235.4 L240.2,237.9 L240.5,240.2 L242.9,242.2 L242.2,244.6 L241.7,247.0 L241.7,249.3 L243.1,251.4 L243.8,253.7 L243.6,256.0"/>
<path d="M243.9,563.1 L246.3,563.1 L248.1,565.3 L250.8,564.4 L252.9,565.8 L255.4,565.5 L257.4,567.0 L259.4,568.5 L262.2,567.4 L264.2,568.8 L264.8,571.1 L266.6,572.6 L267.2,575.0 L268.7,576.6 L270.8,578.0 L270.8,580.7 L272.8,582.1 L274.0,584.0"/>
<path d="M245.3,524.5 L246.3,526.8 L246.2,529.1 L245.1,531.3 L245.1,533.6 L245.3,535.9 L245.6,538.2 L245.1,540.4 L245.0,542.7 L243.8,544.9 L245.6,547.2 L243.8,549.5 L243.6,551.7 L245.1,554.0 L243.2,556.3 L243.6,558.5 L243.1,560.8 L243.9,563.1"/>
<path d="M245.3,524.5 L247.5,524.2 L249.7,524.6 L251.9,524.8 L254.0,526.3 L256.3,525.6 L258.5,525.3 L260.7,525.8 L262.7,526.8 L264.8,527.7 L267.0,528.5 L268.8,529.8 L269.9,532.3 L272.4,532.5 L273.6,534.9 L276.3,534.8 L278.2,536.0 L279.8,537.6 L284.1,537.5"/>
<path d="M249.6,214.0 L251.6,212.9 L253.2,211.2 L255.5,210.7 L258.0,210.8 L260.3,212.4 L262.8,212.6 L265.3,212.8 L267.9,212.8 L270.4,212.9 L271.7,214.9 L273.5,216.3 L275.8,216.9 L277.5,218.5 L280.2,218.6 L281.1,221.2 L283.3,222.0 L284.8,223.8 L286.7,224.9 L289.0,225.6 L290.6,227.3 L291.8,227.6"/>
<path d="M260.2,479.6 L258.2,478.2 L258.7,475.3 L256.1,474.3 L255.6,472.0 L254.2,470.2 L253.0,468.3 L252.7,465.9 L252.0,463.7 L249.5,462.6 L248.8,460.4 L249.7,458.2 L249.6,455.7 L250.7,453.5 L250.9,451.1 L251.0,448.7 L251.6,446.4 L252.3,444.1 L253.5,442.0"/>
<path d="M253.5,442.0 L256.2,442.0 L258.2,440.3 L259.6,438.5 L260.5,436.3 L263.0,435.4 L264.6,433.7 L265.0,431.2 L265.8,429.0 L267.3,427.2 L268.5,425.3 L270.3,423.8 L271.2,421.7 L272.8,420.1 L274.2,418.3 L276.2,416.9 L277.4,415.0 L280.0,414.9 L282.1,413.8 L284.2,412.3 L286.5,411.6"/>
<path d="M259.9,368.9 L259.8,366.6 L260.1,364.3 L259.9,362.0 L259.9,359.7 L259.3,357.4 L259.9,355.2 L261.5,352.9 L259.7,350.6 L260.6,348.3 L259.1,346.6 L257.8,344.8 L256.7,342.8 L254.1,342.1 L252.7,340.3 L251.6,338.3 L251.4,335.9 L252.1,333.6 L252.6,331.3 L254.1,329.2 L254.2,326.9 L254.6,324.5 L253.1,321.9 L253.5,319.6 L255.4,317.6 L256.1,315.3 L255.6,312.8 L256.2,310.6 L255.3,308.1 L256.5,305.9 L257.1,303.6"/>
<path d="M257.1,303.6 L259.6,303.1 L261.4,301.5 L263.4,300.3 L264.9,298.3"/>
<path d="M259.9,368.9 L261.4,370.9 L264.2,370.6 L266.3,371.4 L268.3,372.6 L269.9,374.4 L271.7,375.8 L273.4,377.4 L275.7,378.1 L277.7,379.0 L279.6,380.3 L281.9,380.8 L283.8,382.1 L285.9,383.1"/>
<path d="M260.2,479.6 L262.7,478.8 L265.0,480.7 L267.6,479.7 L269.9,481.4 L272.4,481.0 L274.9,480.5 L277.3,480.4 L279.7,481.4 L282.1,482.8 L283.6,485.2 L285.8,486.8 L287.8,487.9 L290.4,487.5 L292.6,488.1 L294.4,489.8 L296.6,490.6 L298.8,491.2"/>
<path d="M264.9,298.3 L265.0,298.0 L264.5,295.7 L263.8,293.5 L264.3,291.0 L262.7,288.9 L263.1,286.5 L263.1,284.2 L263.9,281.7 L262.9,279.5 L263.1,277.1 L261.9,274.9 L261.7,272.6"/>
<path d="M261.7,272.6 L263.7,271.3 L265.9,270.6 L268.5,271.3 L270.5,270.0 L272.4,268.4 L274.4,267.0 L276.9,267.3 L279.2,266.9 L281.2,265.6 L283.2,264.5 L285.7,264.6 L288.0,264.3 L289.9,262.7"/>
<path d="M273.3,135.5 L270.7,135.3 L268.1,134.9 L265.9,133.4 L263.6,132.3"/>
<path d="M264.9,298.3 L266.6,299.9 L267.7,301.9 L270.0,302.9 L270.5,305.4 L272.2,307.0 L274.1,308.3 L276.1,309.6 L276.4,312.4 L279.0,313.1 L279.7,315.5 L282.2,316.3 L283.7,317.9 L284.4,320.4 L286.7,321.4 L287.1,324.0 L289.4,325.0 L291.4,326.2 L292.9,327.9 L294.1,329.9 L295.5,331.7 L298.2,332.5 L300.8,333.6 L303.7,333.1"/>
<path d="M266.5,624.7 L265.5,622.4 L265.8,620.0 L265.1,617.7 L266.6,615.2 L264.5,613.0 L264.1,610.7 L263.8,608.3 L264.3,605.9 L265.2,603.4 L264.9,601.0 L264.4,598.7 L263.6,596.4 L266.1,595.3 L267.7,593.3 L268.5,590.6 L270.0,588.5 L272.9,587.8 L273.9,585.3 L274.0,584.0"/>
<path d="M282.4,175.0 L284.2,173.2 L284.2,170.2 L286.4,168.6 L285.9,166.4 L284.5,164.6 L283.7,162.5 L282.8,160.5 L281.6,158.5 L280.5,156.6 L280.2,154.3 L279.5,152.2 L280.0,149.6 L277.4,148.2 L278.3,145.5 L276.0,144.0 L275.5,141.8 L275.6,139.4 L274.8,137.3 L273.3,135.5"/>
<path d="M339.0,137.5 L336.7,136.8 L334.1,136.7 L332.2,134.9 L329.9,134.2 L328.1,132.2 L325.5,132.2 L323.9,134.2 L321.7,135.3 L319.1,135.8 L318.2,138.8 L315.7,139.5 L313.2,140.3 L311.3,141.8 L309.7,143.7 L306.7,143.6 L304.3,142.8 L302.6,141.3 L300.9,139.8 L300.5,136.9 L297.8,136.4 L296.8,134.1 L294.7,133.0 L292.2,132.4 L290.0,133.9 L287.6,134.3 L285.1,133.1 L282.8,134.1 L280.5,135.2 L278.0,134.5 L275.7,135.6 L273.3,135.5"/>
<path d="M274.0,584.0 L275.6,582.3 L277.1,580.5 L279.9,580.6 L281.9,579.6 L283.4,577.8 L285.7,577.1 L286.4,574.2 L288.5,573.3 L290.6,572.4 L293.1,572.0 L294.9,570.8 L296.1,568.5 L297.7,566.9 L299.9,566.1 L299.8,563.8 L300.0,561.4 L301.0,559.1 L299.4,556.7 L300.8,554.4 L300.7,552.1 L301.0,549.8 L300.3,547.4"/>
<path d="M282.4,175.0 L282.7,177.5 L284.2,179.6 L285.9,181.1 L288.0,181.8 L289.9,183.1 L291.6,184.4 L292.9,186.4 L295.6,186.4 L297.2,187.9 L298.3,190.2 L300.8,190.5 L302.8,191.5 L304.7,192.7 L305.9,194.8"/>
<path d="M284.1,537.5 L286.1,538.8 L288.3,539.6 L289.6,542.1 L291.8,543.2 L293.7,544.6 L296.5,544.5 L298.8,545.4 L300.3,547.4"/>
<path d="M303.4,498.6 L303.2,501.0 L301.4,502.7 L299.9,504.5 L299.4,506.8 L298.8,509.1 L297.5,511.0 L296.1,512.8 L294.9,514.8 L293.8,516.8 L292.6,518.7 L291.9,521.0 L292.0,523.5 L289.5,524.9 L289.6,527.5 L288.0,529.2 L287.4,531.5 L285.7,533.2 L285.7,535.7 L284.1,537.5"/>
<path d="M285.9,383.1 L286.9,385.5 L287.4,388.0 L288.0,390.5 L286.9,393.3 L288.1,395.7 L288.7,398.2 L288.7,400.5 L288.2,402.7 L286.5,404.7 L287.2,407.1 L287.4,409.5 L286.5,411.6"/>
<path d="M285.9,383.1 L288.0,382.0 L289.4,380.1 L291.6,379.0 L291.8,376.0 L294.0,375.0 L296.2,373.9 L297.8,372.3 L299.6,370.8 L299.9,367.8 L301.9,366.6 L303.3,364.7 L305.0,363.2 L307.8,362.8 L308.9,360.6 L311.0,359.5 L312.0,357.2"/>
<path d="M286.5,411.6 L288.2,413.0 L289.0,415.3 L291.2,416.3 L293.0,417.6 L293.7,420.0 L295.0,421.8 L297.8,422.1 L298.6,424.5 L300.1,426.1 L302.2,427.1 L303.5,428.9 L305.4,430.2 L306.8,431.9 L307.9,433.9 L310.2,434.5"/>
<path d="M316.1,294.4 L314.0,292.7 L312.9,290.3 L311.3,288.2 L309.4,286.4 L308.3,283.5 L308.5,280.4 L306.1,279.6 L304.9,277.5 L303.7,275.3 L301.3,274.5 L299.8,272.7 L297.9,271.2 L297.1,268.7 L295.0,267.5 L292.6,266.6 L291.0,264.9 L289.9,262.7"/>
<path d="M289.9,262.7 L290.0,260.5 L290.7,258.3 L291.2,256.2 L290.4,253.8 L290.8,251.7 L292.3,249.7 L292.1,247.4 L292.1,245.1 L292.5,243.0 L294.2,241.0 L293.2,238.6 L294.1,236.5 L294.0,234.2 L294.6,232.1"/>
<path d="M291.8,227.6 L293.4,229.8 L294.6,232.1"/>
<path d="M291.8,227.6 L293.8,226.4 L295.4,224.8 L295.7,222.2 L296.8,220.2 L299.1,219.2 L299.5,216.8 L300.6,214.8 L303.5,214.3 L304.0,211.9 L306.1,210.7 L306.9,208.5 L306.5,206.2 L307.4,203.9 L306.3,201.7 L305.5,199.4 L305.0,197.2 L305.9,194.8"/>
<path d="M294.6,232.1 L296.6,233.2 L298.6,234.3 L300.3,235.8 L303.2,235.2 L304.7,237.2 L307.0,237.7 L308.9,238.9 L311.3,239.1 L313.2,240.4 L315.0,241.8 L316.7,243.6 L319.5,242.9 L321.2,244.7 L322.9,246.3 L324.8,247.6 L327.3,247.6"/>
<path d="M323.8,585.0 L320.8,584.7 L319.3,586.6 L317.4,588.1 L314.5,587.9 L312.5,589.2 L311.2,591.5 L309.8,593.6 L306.8,593.4 L305.6,595.7 L303.0,596.1 L301.4,597.9 L299.2,598.9 L298.2,601.5 L295.8,602.2 L295.4,604.6 L296.8,606.9 L296.6,609.3 L295.8,611.7 L296.0,614.1 L297.6,616.3 L297.7,618.7 L297.3,621.1"/>
<path d="M303.4,498.6 L301.7,496.2 L300.4,493.6 L298.8,491.2"/>
<path d="M298.8,491.2 L300.0,489.3 L300.9,487.2 L302.5,485.6 L304.7,484.6 L306.4,483.1 L306.4,480.2 L308.6,479.1 L310.4,477.7 L310.5,474.9 L313.3,474.3 L313.4,471.6 L315.7,470.5 L317.0,468.7 L318.5,467.1 L319.3,464.9 L320.9,463.3 L322.6,461.8 L323.7,459.9 L325.5,458.5 L326.6,456.5"/>
<path d="M332.4,551.6 L330.3,550.7 L328.2,549.8 L325.8,549.6 L324.3,547.5 L322.1,546.7 L319.8,546.3 L318.3,544.2 L316.2,543.2 L313.9,542.8 L311.7,543.7 L309.6,545.0 L307.1,545.2 L305.1,546.7 L302.8,547.4 L300.3,547.4"/>
<path d="M303.4,498.6 L305.5,499.6 L307.9,500.0 L309.6,501.8 L311.5,503.1 L314.1,503.3 L315.5,505.5 L318.1,505.6 L319.4,507.9 L321.7,508.6 L323.4,510.9 L325.4,512.2 L327.8,512.3 L330.3,512.0 L332.2,513.6 L334.5,514.0 L336.4,515.9 L339.1,514.8 L340.8,517.0 L343.0,518.0 L345.3,518.1 L347.5,518.9 L350.1,518.3 L352.1,519.6"/>
<path d="M303.7,333.1 L304.5,335.6 L306.9,336.8 L307.5,339.1 L307.1,341.6 L307.7,343.8 L309.9,345.7 L309.1,348.3 L309.4,350.6 L311.8,352.4 L311.8,354.9 L312.0,357.2"/>
<path d="M303.7,333.1 L304.9,331.1 L304.4,328.6 L306.6,326.9 L306.0,324.3 L307.8,322.6 L307.1,320.0 L308.5,318.1 L310.1,316.2 L309.3,313.6 L310.1,311.4 L311.3,309.5 L311.6,307.2 L311.7,304.8 L312.7,302.8 L313.3,300.6 L315.6,299.0 L315.8,296.7 L316.1,294.4"/>
<path d="M324.5,175.8 L321.5,177.1 L319.3,178.3 L318.9,181.1 L316.3,182.0 L315.9,184.7 L313.6,185.9 L311.9,187.5 L310.8,189.7 L308.4,190.7 L307.4,192.9 L305.9,194.8"/>
<path d="M326.6,456.5 L326.3,455.6 L325.1,453.7 L324.3,451.6 L321.6,450.9 L321.8,447.9 L319.8,446.6 L318.1,445.2 L317.4,442.9 L315.2,441.8 L315.1,439.1 L313.0,437.9 L311.3,436.4 L310.2,434.5"/>
<path d="M310.2,434.5 L312.2,433.4 L313.3,431.3 L314.6,429.3 L317.0,428.7 L317.6,426.0 L320.4,425.7 L321.1,423.2 L323.3,422.3 L325.5,421.2 L326.5,419.1 L328.2,417.6 L329.3,415.5 L330.4,413.5 L332.1,412.0 L333.9,410.6 L336.2,409.8 L337.6,407.9 L339.3,406.5 L340.9,404.9"/>
<path d="M312.0,357.2 L313.7,359.1 L316.6,358.8 L318.5,360.1 L320.2,362.0 L322.9,361.9 L324.5,364.0"/>
<path d="M316.1,294.4 L318.4,293.4 L320.7,294.2 L323.0,293.7 L325.3,294.6 L327.5,295.3 L329.7,296.0 L331.4,297.7 L333.5,298.7 L335.9,298.9 L337.6,300.7 L339.8,301.4 L342.2,301.7 L343.5,304.3 L346.3,303.9 L348.4,304.7 L350.5,305.5 L352.1,307.6 L354.3,308.3"/>
<path d="M360.9,616.1 L360.5,613.7 L359.1,611.7 L357.3,610.1 L356.3,607.9 L353.9,607.9 L351.5,607.9 L349.6,606.1 L347.3,605.7 L344.9,605.7 L342.8,604.5 L340.4,604.5 L338.4,602.9 L336.0,602.8 L333.5,603.3 L331.4,602.3 L331.3,599.8 L328.6,598.4 L328.6,595.8 L327.4,593.7 L326.1,591.7 L324.8,589.7 L325.3,586.9 L323.8,585.0"/>
<path d="M341.4,567.9 L340.5,570.2 L338.1,570.9 L335.9,571.9 L335.5,574.7 L333.9,576.1 L331.6,577.1 L330.2,578.8 L328.4,580.1 L326.5,581.4 L325.9,584.0 L323.8,585.0"/>
<path d="M340.9,404.9 L339.5,402.7 L338.6,400.3 L338.0,397.8 L335.8,396.8 L335.6,394.0 L333.5,392.9 L333.4,390.5 L332.6,388.3 L330.4,386.6 L331.5,383.8 L330.6,381.6 L329.3,379.6 L329.2,377.2 L327.9,375.1 L326.7,373.1 L325.7,370.9 L325.3,368.6 L324.2,366.5 L324.5,364.0"/>
<path d="M324.5,364.0 L326.6,363.0 L329.0,363.2 L331.2,362.5 L333.5,362.2 L335.6,361.2 L337.5,359.7 L339.9,359.6 L342.0,358.7 L344.4,358.8 L346.4,357.6 L348.5,356.5 L350.9,356.6 L353.3,356.7 L355.0,354.4 L357.4,354.4"/>
<path d="M344.0,212.5 L343.7,212.2 L344.0,209.7 L341.6,207.9 L341.6,205.5 L341.0,203.2 L341.6,200.6 L341.5,198.2 L340.5,196.1 L339.1,194.0 L338.9,191.6 L337.9,189.3 L335.4,188.3 L333.7,186.7 L333.2,184.0 L331.1,182.6 L329.6,180.8 L328.0,179.1 L326.9,176.8 L324.5,175.8"/>
<path d="M342.6,158.9 L340.7,160.0 L338.3,160.4 L336.5,161.8 L334.3,162.6 L332.8,164.4 L330.5,165.0 L328.8,166.5 L327.6,168.8 L327.0,171.3 L326.2,173.7 L324.5,175.8"/>
<path d="M326.6,456.5 L328.3,458.0 L330.8,458.2 L331.6,461.0 L334.4,460.8 L336.4,461.8 L338.1,463.2 L339.0,465.9 L341.5,466.1 L343.6,466.9 L345.6,468.0 L347.4,469.2 L348.7,471.3 L351.7,472.4 L354.9,472.6"/>
<path d="M327.3,247.6 L327.8,249.3 L329.5,250.9 L331.4,252.3 L333.2,253.7 L335.9,253.8 L337.2,256.1 L339.4,257.0 L340.7,259.2 L342.6,260.5 L344.4,262.0 L347.3,261.8 L348.7,263.9 L350.8,265.0 L353.0,265.4 L355.2,265.8 L357.6,264.2 L359.7,265.4 L362.6,266.9 L364.7,269.5"/>
<path d="M346.5,217.9 L346.0,220.2 L345.0,222.2 L342.3,223.1 L341.1,225.0 L340.3,227.0 L338.7,228.6 L337.9,230.7 L337.3,233.0 L336.4,235.1 L335.2,236.9 L332.8,238.0 L332.6,240.5 L331.2,242.2 L329.8,244.0 L329.4,246.3 L327.3,247.6"/>
<path d="M357.8,116.6 L356.1,115.0 L354.9,113.1 L354.1,110.9 L352.0,109.9 L349.7,110.0 L347.4,109.6 L345.6,107.6 L343.2,108.0 L341.2,106.7 L338.8,106.9 L338.0,104.8 L335.9,103.3 L335.6,101.0 L334.7,98.9 L334.3,96.6 L332.5,95.0 L332.2,92.6 L330.9,90.8 L329.8,88.8"/>
<path d="M341.4,567.9 L339.7,566.2 L339.8,563.4 L337.2,562.2 L337.5,559.4 L335.1,558.1 L333.7,556.2 L333.0,554.0 L332.4,551.6"/>
<path d="M352.1,519.6 L350.4,521.2 L348.9,522.8 L349.6,525.8 L347.5,527.1 L346.3,529.0 L344.6,530.6 L344.6,533.1 L342.8,534.7 L342.0,536.7 L339.9,538.0 L339.8,540.6 L337.4,541.7 L337.4,544.3 L336.4,546.3 L334.3,547.6 L333.6,549.7 L332.4,551.6"/>
<path d="M338.6,641.8 L339.4,639.5 L341.8,638.6 L342.4,636.1 L345.0,635.4 L346.4,633.5 L348.0,631.9 L349.2,630.0 L350.3,627.9 L351.8,626.2 L353.3,624.5 L355.6,623.5 L355.8,620.6 L358.6,620.1 L358.6,617.1 L360.9,616.1"/>
<path d="M339.0,137.5 L340.4,139.4 L341.2,141.5 L340.7,144.2 L342.4,146.0 L343.5,148.0 L343.3,150.5 L344.9,152.3"/>
<path d="M357.8,116.6 L356.7,118.7 L354.7,120.1 L353.0,121.8 L351.1,123.2 L349.6,124.9 L348.2,126.8 L347.1,129.0 L345.6,130.8 L344.3,132.8 L341.6,133.5 L340.3,135.5 L339.0,137.5"/>
<path d="M410.4,87.9 L408.0,87.4 L405.6,88.6 L403.2,88.0 L400.8,87.3 L398.4,87.7 L396.1,88.7 L393.7,88.0 L391.3,87.1 L388.9,88.5 L386.5,87.9 L383.7,86.4 L381.9,83.8 L379.6,83.6 L377.6,82.2 L375.4,81.3 L372.8,82.2 L370.6,81.6 L368.4,80.8 L366.3,79.7 L363.0,80.8 L360.8,80.4 L358.8,79.2 L356.4,79.2 L354.4,78.0 L352.2,77.5 L350.7,75.1 L348.4,74.9 L345.8,75.4 L344.4,72.8 L341.6,73.8 L339.8,72.2"/>
<path d="M340.9,404.9 L343.1,405.6 L344.7,407.7 L347.0,408.2 L349.2,409.0 L351.6,409.3 L353.9,409.7 L355.7,411.5 L358.3,411.3 L360.3,412.4 L362.3,413.7 L364.7,413.9 L366.5,415.5 L368.3,417.2 L370.7,417.5 L372.6,417.7"/>
<path d="M396.9,577.9 L394.2,578.7 L391.9,580.3 L389.4,581.5 L387.2,580.9 L384.9,581.0 L382.6,581.4 L380.5,580.0 L378.2,580.2 L376.1,579.1 L373.9,578.4 L371.5,579.2 L369.3,578.6 L367.1,577.9 L364.8,578.1 L363.1,576.7 L361.2,575.4 L360.4,573.1 L359.1,571.3 L357.4,569.9 L355.4,568.8 L353.1,568.2 L350.8,567.7 L348.4,568.0 L346.1,567.9 L343.7,568.2 L341.4,567.9"/>
<path d="M342.6,158.9 L344.6,160.2 L345.9,162.4 L348.4,163.1 L349.6,165.3 L350.8,167.5 L352.6,169.0 L354.5,170.5 L356.4,171.9"/>
<path d="M342.6,158.9 L342.8,156.5 L344.0,154.4 L344.9,152.3"/>
<path d="M346.5,217.9 L345.2,215.2 L344.0,212.5"/>
<path d="M344.0,212.5 L345.9,211.1 L347.2,209.1 L349.3,207.9 L351.3,206.7 L351.9,203.9 L354.3,203.0 L356.1,201.6 L357.2,199.3 L359.0,197.9 L361.4,197.0 L361.7,193.9 L364.1,193.1 L365.7,191.4"/>
<path d="M344.9,152.3 L346.8,150.9 L349.3,151.6 L351.6,151.2 L353.4,149.7 L355.3,148.1 L357.7,148.4 L359.8,147.7 L362.1,147.4 L364.1,146.3 L366.2,145.6 L367.8,147.2 L369.2,148.9 L371.4,149.7 L373.3,150.9 L374.3,153.2 L377.0,153.2 L378.4,155.1"/>
<path d="M346.5,217.9 L348.5,219.2 L350.9,219.6 L352.7,221.3 L355.5,220.9 L356.9,223.6 L359.6,223.3 L362.0,223.6 L363.9,225.0 L365.9,226.4 L368.3,225.8 L370.6,224.6 L373.2,225.1 L375.7,224.9"/>
<path d="M352.1,519.6 L354.3,519.1 L356.5,519.4 L358.6,518.3 L360.7,517.7 L363.0,517.9"/>
<path d="M410.4,87.9 L409.8,85.5 L410.9,83.2 L411.4,80.8 L410.5,78.5 L409.8,76.1 L411.1,73.8 L410.2,71.4 L409.8,69.1 L410.4,66.7 L407.9,66.1 L406.7,63.6 L404.7,62.3 L402.5,61.3 L400.3,60.3 L398.4,58.9 L396.0,58.2 L394.3,56.4 L393.3,54.1 L391.5,52.1 L388.7,52.3 L386.7,50.7 L384.6,49.3 L382.1,48.9 L381.8,46.5 L380.2,44.6 L378.9,42.6 L378.5,40.2 L376.8,38.4 L376.6,35.9 L374.4,34.6 L371.7,35.1 L369.6,33.4 L366.9,34.1 L364.6,33.0 L362.7,31.3 L360.8,29.7 L359.3,27.6 L357.2,26.1 L355.2,24.5 L354.3,21.9"/>
<path d="M354.3,308.3 L353.9,310.6 L355.0,312.7 L355.2,314.9 L354.8,317.2 L354.1,319.8 L352.7,322.0 L351.6,324.4 L352.2,326.7 L352.2,329.1 L352.6,331.4 L353.7,333.6 L352.9,336.1 L353.5,338.4 L355.7,340.4 L354.5,343.0 L354.7,345.3 L355.4,347.6 L357.3,349.6 L356.2,352.2 L357.4,354.4"/>
<path d="M354.3,308.3 L354.9,307.6 L355.8,305.4 L355.0,302.9 L355.6,300.6 L358.2,298.9 L358.1,296.5 L357.8,294.0 L358.1,291.7 L358.8,289.5 L359.5,287.3 L361.3,285.3 L360.9,282.9 L361.1,280.5 L363.3,278.7 L363.6,276.4 L362.8,273.8 L365.0,272.0 L364.7,269.5"/>
<path d="M354.9,472.6 L356.1,474.7 L357.2,476.8 L358.8,478.6 L359.8,480.8 L361.4,482.6 L363.3,484.1"/>
<path d="M354.9,472.6 L356.9,471.2 L357.2,468.6 L359.5,467.4 L360.6,465.4 L362.4,463.9 L363.3,461.6 L365.5,460.4 L366.4,458.2 L367.7,456.3 L367.5,454.0 L367.7,451.7 L367.8,449.4 L368.8,447.2 L368.2,444.8 L369.4,442.7 L368.9,440.3 L370.0,438.1 L370.3,435.9 L370.7,433.6 L371.7,431.4 L370.1,428.9 L372.2,426.9 L371.7,424.5 L372.2,422.3 L372.7,420.0 L372.6,417.7"/>
<path d="M356.4,171.9 L355.5,174.4 L356.1,176.9 L357.7,178.8 L359.0,180.9 L359.4,183.7 L362.4,184.7 L362.7,187.4 L364.1,189.5 L365.7,191.4"/>
<path d="M356.4,171.9 L358.6,170.1 L361.6,170.5 L364.2,169.8 L366.6,168.6"/>
<path d="M357.4,354.4 L358.8,356.4 L361.4,356.5 L362.5,358.9 L364.9,359.3 L366.8,360.5"/>
<path d="M357.8,116.6 L360.0,117.6 L361.7,119.4 L364.7,118.7 L366.4,120.6 L368.7,120.7 L370.9,120.0 L373.1,119.0 L375.5,119.7 L377.6,118.2 L379.8,118.1 L382.1,117.7 L384.4,119.1 L386.5,120.9 L389.1,121.7 L391.4,120.9 L393.8,121.2 L396.1,121.0 L398.5,121.1 L400.9,121.6 L403.1,120.2 L405.5,121.2 L407.8,120.1 L410.2,120.2 L412.5,120.0"/>
<path d="M360.9,616.1 L363.2,616.3 L365.3,617.4 L367.2,619.1 L369.6,619.1 L371.7,620.0 L374.1,619.7 L376.3,620.4 L378.4,621.4 L380.1,619.9 L382.4,619.3 L384.2,618.0 L386.4,618.7 L388.6,619.4 L391.2,618.1 L393.2,620.0 L395.4,620.7 L397.8,620.3 L400.3,619.6 L402.5,620.5 L404.8,620.3 L407.0,621.1 L409.2,622.1"/>
<path d="M363.0,517.9 L365.2,519.6 L365.5,522.1 L367.3,523.8 L368.4,525.9 L369.3,528.1 L370.2,530.3 L371.9,532.1 L373.3,534.0 L375.3,535.1 L377.4,535.9 L379.4,536.9 L381.6,537.5 L383.8,538.1 L385.1,540.1 L387.5,541.1 L388.4,543.5 L390.4,544.8 L391.5,547.0 L393.6,548.3"/>
<path d="M363.3,484.1 L364.2,486.4 L364.0,488.6 L364.3,490.9 L362.6,493.1 L362.3,495.4 L362.8,497.6 L363.4,499.9 L362.4,502.1 L362.5,504.4 L363.0,506.6 L363.6,508.9 L363.5,511.1 L363.2,513.4 L363.4,515.7 L363.0,517.9"/>
<path d="M363.3,484.1 L365.5,483.8 L367.7,484.0 L370.0,484.5 L372.0,482.4 L374.3,483.3 L376.4,482.0 L378.7,481.9 L381.0,483.3 L383.2,482.6 L385.4,483.1 L387.6,481.9 L389.7,480.8 L392.0,481.4 L394.2,481.7 L396.5,482.2 L398.7,482.1 L400.8,480.8 L403.0,480.7"/>
<path d="M364.7,269.5 L367.0,269.3 L369.2,268.6 L371.5,269.9 L373.8,268.9 L376.0,268.8 L378.3,268.5 L380.5,268.5 L382.8,269.6 L384.5,271.0 L387.1,271.0 L388.1,273.7 L391.0,273.1 L392.1,275.7 L394.8,275.3 L396.8,276.2 L398.0,278.6 L400.4,278.7 L402.1,280.3"/>
<path d="M365.7,191.4 L369.9,191.3"/>
<path d="M366.6,168.6 L367.0,170.9 L369.0,172.6 L370.1,174.6 L369.5,177.3 L370.5,179.3 L371.0,181.6 L372.6,183.4"/>
<path d="M370.3,166.1 L368.2,166.9 L366.6,168.6"/>
<path d="M383.1,383.9 L381.0,382.6 L380.6,380.1 L379.3,378.2 L377.5,376.7 L376.9,374.3 L374.4,373.4 L374.2,370.6 L372.4,369.1 L369.8,368.3 L368.4,366.5 L367.9,364.0 L366.8,360.5"/>
<path d="M405.1,331.0 L402.8,333.1 L401.4,333.5 L399.4,334.7 L397.3,335.8 L396.5,338.5 L394.4,339.5 L392.0,340.2 L390.9,342.6 L388.2,342.8 L386.9,344.9 L385.6,347.1 L383.4,347.9 L381.3,349.0 L379.6,350.7 L377.5,351.7 L376.4,354.0 L373.7,354.3 L372.4,356.5 L370.2,357.4 L368.4,358.9 L366.8,360.5"/>
<path d="M386.4,200.0 L384.3,199.1 L382.2,198.0 L380.5,196.2 L378.6,194.8 L376.4,194.0 L374.1,193.3 L371.7,192.8 L369.9,191.3"/>
<path d="M369.9,191.3 L369.9,188.4 L372.7,186.4 L372.6,183.4"/>
<path d="M370.3,166.1 L371.3,168.3 L372.4,170.4 L374.6,171.7 L375.4,174.0 L376.1,176.4 L378.3,177.8"/>
<path d="M378.4,155.1 L376.5,156.5 L375.5,158.6 L374.7,160.8 L373.1,162.5 L371.0,163.8 L370.3,166.1"/>
<path d="M377.9,415.6 L375.3,416.9 L372.6,417.7"/>
<path d="M378.3,177.8 L376.1,179.4 L374.3,181.4 L372.6,183.4"/>
<path d="M407.4,234.8 L405.1,233.9 L402.8,234.1 L400.4,235.3 L398.1,235.9 L395.8,235.3 L393.4,235.0 L391.1,234.6 L388.8,234.8 L387.3,232.8 L385.6,231.3 L382.6,231.4 L381.8,228.6 L379.9,227.2 L378.1,225.7 L375.7,224.9"/>
<path d="M375.7,224.9 L376.9,222.9 L377.3,220.6 L379.4,219.2 L380.4,217.1 L381.2,214.9 L382.6,213.1 L382.5,210.6 L383.0,208.3 L385.0,206.7 L386.5,204.9 L386.9,202.6 L386.4,200.0"/>
<path d="M377.9,415.6 L381.1,416.1 L383.8,417.8 L385.1,419.8 L386.5,421.6 L389.2,422.0 L390.3,424.2 L391.8,425.9 L393.8,427.1 L395.8,428.2 L397.4,429.9 L398.3,432.2 L399.9,433.8 L402.1,434.9 L404.3,435.8 L404.9,438.5 L406.6,440.0 L409.0,440.7 L410.3,442.7"/>
<path d="M383.1,383.9 L382.6,386.1 L381.5,388.3 L381.1,390.6 L381.6,392.9 L381.3,395.2 L380.7,397.5 L381.2,399.9 L380.8,402.1 L380.5,404.4 L378.9,406.5 L379.3,408.9 L378.5,411.0 L378.5,413.4 L377.9,415.6"/>
<path d="M388.0,178.3 L385.6,178.1 L383.1,178.8 L380.7,178.9 L378.3,177.8"/>
<path d="M378.4,155.1 L381.1,156.1 L383.6,154.6 L386.2,153.9 L388.9,154.7 L390.0,155.3"/>
<path d="M432.0,391.8 L430.6,390.0 L429.3,388.1 L426.8,387.5 L425.9,385.2 L423.9,384.0 L422.7,382.1 L420.3,381.2 L419.5,378.9 L416.8,378.9 L415.4,376.0 L413.0,375.3 L410.4,375.2 L408.2,374.2 L406.1,374.9 L404.2,376.3 L401.7,376.1 L399.9,377.6 L397.4,377.3 L395.4,378.5 L393.3,379.2 L391.1,379.7 L389.6,382.0 L387.6,383.2 L385.4,383.7 L383.1,383.9"/>
<path d="M386.4,200.0 L386.8,197.7 L387.7,195.6 L388.6,193.5 L390.6,192.1 L392.3,190.4 L392.6,188.0 L391.4,185.6 L391.2,182.7 L390.0,180.3 L388.0,178.3"/>
<path d="M390.0,155.3 L390.8,157.7 L389.4,159.9 L389.6,162.2 L390.0,164.6 L388.0,166.7 L389.3,169.1 L388.5,171.4 L388.1,173.7 L387.2,175.9 L388.0,178.3"/>
<path d="M404.9,156.3 L402.4,155.8 L399.9,156.2 L397.4,155.9 L394.9,156.4 L392.6,154.4 L390.0,155.3"/>
<path d="M396.9,577.9 L397.7,575.5 L395.8,573.4 L395.1,571.2 L395.4,568.9 L395.3,566.6 L396.3,564.1 L396.0,561.9 L395.6,559.6 L393.6,557.5 L395.0,555.1 L394.6,552.8 L394.2,550.5 L393.6,548.3"/>
<path d="M393.6,548.3 L396.1,548.8 L397.8,546.3 L400.1,545.9 L402.7,546.7 L405.0,546.5 L407.1,545.4 L409.1,544.1 L411.5,544.2 L413.9,544.0 L415.7,542.0 L418.1,542.0 L420.3,541.3 L422.5,540.5 L424.9,540.7 L427.0,539.5 L429.2,539.1 L431.6,539.1"/>
<path d="M396.9,577.9 L399.4,577.6 L401.5,579.3 L404.1,578.4 L406.1,580.4 L408.7,579.8 L411.1,580.0 L413.0,582.4 L415.5,582.0 L417.6,583.2 L418.1,586.0 L419.9,587.6 L422.1,588.7"/>
<path d="M402.1,280.3 L400.9,282.7 L402.1,285.4 L401.1,287.8 L401.5,290.4 L399.3,292.6 L399.1,295.1 L399.5,297.7 L400.0,300.0 L401.0,302.1 L402.0,304.2 L401.7,306.8 L403.2,308.7 L403.6,311.1 L405.3,312.9 L405.9,315.2 L406.0,317.6 L406.8,319.9 L405.2,322.0 L405.4,324.3 L406.2,326.6 L404.4,328.7 L405.1,331.0"/>
<path d="M412.4,274.4 L410.6,276.0 L408.4,276.9 L406.6,278.6 L404.4,279.6 L402.1,280.3"/>
<path d="M427.7,522.7 L426.8,520.2 L424.4,518.9 L422.5,517.1 L421.6,514.6 L418.5,513.1 L417.0,511.5 L415.2,510.1 L414.6,507.6 L411.8,507.2 L411.6,504.3 L408.6,504.0 L408.5,501.1 L406.3,500.1 L406.3,497.6 L404.8,495.4 L405.0,492.8 L404.2,490.5 L403.7,488.1 L403.2,485.7 L403.1,483.2 L403.0,480.7"/>
<path d="M411.0,464.5 L409.0,466.0 L408.0,468.1 L407.2,470.2 L407.8,473.0 L406.4,474.8 L404.2,476.3 L404.9,479.1 L403.0,480.7"/>
<path d="M404.9,156.3 L406.0,158.4 L408.2,159.5 L408.5,162.3 L411.6,162.7 L411.7,165.6 L413.7,166.9 L414.3,169.1 L415.0,171.4 L415.5,173.6 L414.0,176.1 L414.9,178.3 L415.2,180.6 L417.3,181.7 L418.5,183.7 L419.3,186.1 L422.0,186.7 L423.0,188.8 L425.2,189.8 L426.7,191.5 L427.4,194.0 L429.4,195.2"/>
<path d="M412.5,120.0 L412.8,122.3 L414.6,124.2 L415.6,126.3 L416.3,128.5 L415.9,131.0 L416.9,133.1 L417.6,135.3 L416.9,137.5 L415.8,139.5 L413.9,140.9 L412.6,142.7 L411.2,144.5 L410.5,146.7 L410.1,149.0 L409.2,151.1 L406.8,152.2 L406.2,154.5 L404.9,156.3"/>
<path d="M446.5,340.3 L444.2,340.0 L442.1,341.6 L439.7,340.1 L437.5,340.9 L435.2,340.6 L433.4,338.9 L431.3,338.2 L428.9,338.3 L426.4,338.6 L424.8,336.1 L422.4,336.3 L420.5,334.8 L417.9,335.5 L415.7,335.0 L414.0,332.9 L411.5,333.3 L409.2,333.0 L407.2,331.9 L405.1,331.0"/>
<path d="M407.4,234.8 L407.8,237.1 L409.7,239.0 L409.2,241.5 L410.0,243.7 L410.4,246.0 L411.9,248.0 L411.2,250.6 L411.6,252.9 L412.2,255.2 L413.9,257.1 L413.7,259.6 L415.0,261.6 L414.9,264.1 L416.0,266.2 L416.0,268.6 L413.4,270.0 L412.4,271.9 L412.4,274.4"/>
<path d="M407.4,234.8 L409.0,233.1 L410.6,231.4 L412.3,229.7 L413.9,228.1 L414.7,225.6 L417.8,225.3 L418.2,222.5 L419.8,220.7 L421.3,218.9 L423.5,217.8"/>
<path d="M411.0,464.5 L410.3,462.5 L409.8,460.3 L411.0,458.1 L409.3,455.9 L409.4,453.7 L410.7,451.5 L409.6,449.3 L409.2,447.1 L410.5,444.9 L410.3,442.7"/>
<path d="M410.3,442.7 L413.4,440.7 L415.6,440.4 L417.8,439.8 L420.1,439.8 L422.0,438.0 L424.5,439.2 L426.6,438.4 L428.5,436.5 L430.7,436.2 L433.1,436.6 L435.3,436.1 L437.4,435.2 L439.5,434.4 L441.8,434.5 L443.9,433.5 L446.3,434.0 L448.6,434.1 L450.6,432.9"/>
<path d="M415.2,91.7 L412.3,90.4 L410.4,87.9"/>
<path d="M411.0,464.5 L413.2,465.2 L415.3,466.1 L417.8,465.4 L419.6,467.4 L421.7,468.2 L424.2,467.5 L426.4,468.2 L428.4,469.6 L430.7,469.5 L433.0,469.7 L434.9,471.5 L437.2,471.7 L439.6,471.3 L441.8,471.6 L443.9,472.7 L446.1,474.5 L447.8,476.7 L449.6,478.9 L450.2,479.1"/>
<path d="M412.4,274.4 L414.0,276.4 L416.2,277.0 L418.1,278.3 L420.2,279.1 L422.2,280.2 L425.0,279.6 L426.6,281.5 L428.2,283.4 L430.3,284.4 L433.0,284.0 L434.8,285.4 L436.7,286.8 L439.0,287.3 L440.8,288.7 L443.3,288.8 L445.0,290.5 L447.0,291.7 L449.5,291.7 L451.4,293.0 L452.6,295.6 L455.1,295.7"/>
<path d="M415.2,91.7 L414.6,94.1 L414.3,96.5 L414.9,98.8 L414.6,101.2 L414.4,103.6 L414.4,106.0 L416.3,108.4 L415.0,110.7 L415.8,113.1 L415.3,115.5 L413.6,117.5 L412.5,120.0"/>
<path d="M415.2,91.7 L417.8,90.4 L420.7,90.1 L423.4,89.2 L425.3,90.8 L427.6,90.8 L430.0,90.7 L432.0,91.9 L434.2,92.4 L436.0,94.2 L438.6,93.5 L440.6,94.6 L441.0,95.1 L443.3,94.6 L445.7,95.4 L448.0,94.2 L450.4,95.2 L452.7,96.0 L455.0,95.0 L457.4,94.4 L459.7,94.8 L462.1,94.9 L464.4,94.8"/>
<path d="M423.5,217.8 L425.9,218.6 L427.8,219.9 L429.7,221.3 L431.4,223.0 L433.2,224.6 L435.3,225.8 L437.2,227.1 L439.4,228.2 L440.7,230.4 L442.2,232.3 L444.4,233.3 L446.5,234.5 L447.3,236.7 L448.1,239.0 L449.9,240.8 L449.8,243.4 L451.2,245.4 L453.2,246.6 L455.1,248.1 L457.0,249.5 L459.1,250.6"/>
<path d="M429.4,195.2 L428.8,197.4 L428.4,199.6 L427.8,201.8 L427.2,204.0 L425.9,206.0 L425.4,208.2 L424.3,210.2 L424.8,212.8 L423.1,214.6 L423.5,217.8"/>
<path d="M431.6,539.1 L430.7,536.8 L431.3,534.2 L429.4,532.2 L429.5,529.7 L428.8,527.4 L427.8,525.2 L427.7,522.7"/>
<path d="M427.7,522.7 L430.2,522.8 L431.6,520.5 L434.0,520.6 L435.5,518.4 L437.4,517.4 L440.1,518.1 L441.8,516.3 L443.5,514.7 L445.8,514.4 L447.8,513.6 L450.1,513.3 L451.6,511.2 L453.7,510.5 L456.4,511.1 L458.2,509.8 L460.0,508.4"/>
<path d="M448.8,186.8 L446.9,188.4 L444.6,189.0 L442.5,189.9 L440.0,190.2 L437.9,191.2 L435.6,191.7 L433.4,192.7 L431.5,194.2 L429.4,195.2"/>
<path d="M431.6,539.1 L432.6,540.3 L434.9,541.6 L437.5,542.0 L439.8,542.7 L442.2,542.8 L444.6,542.3 L446.9,543.1 L449.3,543.1 L451.6,543.7 L454.0,542.9 L456.2,544.0 L456.6,546.9 L459.6,547.3 L460.0,550.1 L461.9,551.5 L463.7,553.1 L464.5,555.5 L466.8,556.6 L468.6,558.1 L469.6,560.3 L471.1,562.2 L473.3,563.3"/>
<path d="M432.0,391.8 L432.5,394.9 L433.9,397.0 L435.9,398.8 L438.4,400.1 L440.5,401.9 L442.6,403.6 L443.4,405.7 L443.6,408.1 L445.3,409.9 L445.8,412.2 L446.2,414.4 L447.3,416.5 L448.2,418.6 L447.9,421.1 L448.5,423.3 L450.0,425.2 L450.9,427.3 L451.5,429.5 L450.6,432.9"/>
<path d="M455.6,366.7 L454.5,368.8 L452.8,370.3 L451.4,372.3 L449.2,373.3 L447.6,374.9 L446.8,377.4 L443.9,377.8 L443.3,380.4 L440.9,381.2 L439.3,382.9 L437.6,384.4 L437.2,387.2 L435.3,388.6 L432.9,389.5 L432.0,391.8"/>
<path d="M446.5,340.3 L447.3,341.1 L449.0,342.9 L449.6,345.1 L449.2,347.5 L450.1,349.6 L449.9,352.1 L450.9,354.1 L452.1,356.1 L451.8,358.5 L453.5,360.3 L454.2,362.4 L454.5,364.7 L455.6,366.7"/>
<path d="M446.5,340.3 L446.9,338.1 L447.4,335.9 L448.5,333.8 L448.6,331.5 L450.5,329.7 L450.5,327.3 L450.8,325.0 L450.5,322.6 L451.7,320.6 L452.3,318.4 L453.3,316.3 L453.9,314.2 L455.2,312.2 L456.0,310.0 L455.6,307.6 L456.1,305.3 L456.8,303.2"/>
<path d="M448.8,186.8 L450.4,188.6 L451.6,190.8 L454.3,191.4 L455.8,193.3 L457.1,195.4 L459.9,196.0 L461.4,197.8 L462.2,200.5 L464.2,201.9 L466.4,203.0 L468.2,204.6 L470.6,204.0 L472.8,205.9 L475.2,205.7 L477.5,206.3 L479.9,205.8"/>
<path d="M457.5,128.1 L455.1,128.6 L453.5,130.1 L452.3,132.2 L450.9,134.0 L449.0,135.1 L447.0,136.1 L445.2,137.4 L443.9,139.3 L442.1,140.7 L439.8,141.2 L438.2,142.8 L438.0,145.2 L438.6,147.5 L437.2,149.9 L438.0,152.3 L439.3,154.6 L438.3,157.0 L440.0,158.7 L441.0,161.0 L443.4,162.2 L444.3,164.5 L447.1,165.4 L448.1,167.6 L449.4,169.7 L448.7,172.2 L449.2,174.7 L449.1,177.2 L450.1,179.6 L449.5,182.1 L449.5,184.6 L448.8,186.8"/>
<path d="M460.0,508.4 L459.8,505.9 L458.8,503.6 L459.3,501.0 L458.7,498.6 L459.3,496.1 L458.1,493.8 L457.4,491.4 L457.2,488.9 L455.1,487.4 L453.8,485.4 L453.5,482.7 L450.9,481.6 L450.2,479.1"/>
<path d="M450.2,479.1 L451.8,477.3 L453.9,476.3 L456.2,475.9 L458.6,475.5 L460.4,474.0 L462.6,473.3 L463.8,470.8 L465.8,469.6 L468.6,470.0 L470.1,468.1 L472.5,467.8 L474.3,466.3 L474.3,463.8 L474.2,461.4 L474.7,459.0 L474.6,456.5 L476.7,454.3 L476.3,451.8 L476.4,449.4"/>
<path d="M450.6,432.9 L452.2,435.7 L453.1,438.8 L455.3,439.7 L457.4,440.5 L459.9,440.8 L461.2,443.4 L463.6,443.8 L465.4,445.5 L468.0,445.4 L469.9,446.7 L472.4,447.0 L474.7,447.5 L476.4,449.4"/>
<path d="M455.1,295.7 L455.1,297.1 L455.0,300.4 L456.8,303.2"/>
<path d="M455.1,295.7 L457.3,294.0 L457.8,291.2 L459.7,289.3 L460.5,287.0 L460.3,284.7 L459.2,282.5 L459.8,280.2 L460.5,277.9 L459.5,275.6 L460.4,273.3 L458.9,271.1 L459.1,268.8 L459.8,266.5 L458.7,264.3 L458.9,262.0 L460.1,259.7 L459.2,257.4 L459.8,255.1 L458.6,252.9 L459.1,250.6"/>
<path d="M455.6,366.7 L458.1,366.9 L460.2,368.1 L462.5,368.5 L464.2,371.0 L466.9,370.4 L468.9,371.8 L471.2,372.5"/>
<path d="M456.8,303.2 L459.2,303.6 L460.7,305.5 L462.8,306.3 L464.8,307.4 L467.1,307.9 L469.0,309.1 L470.2,311.6 L472.7,311.8 L474.8,312.7 L476.8,313.7 L478.7,314.9 L480.7,316.0 L482.9,316.7 L484.2,319.0 L486.5,319.5 L488.7,320.2 L490.3,322.0 L492.6,321.8 L494.5,319.9 L496.8,319.7 L499.3,320.3 L501.1,318.1 L503.5,318.2 L505.9,318.4 L507.9,317.1"/>
<path d="M491.9,158.1 L490.0,156.7 L487.3,157.2 L485.3,156.0 L483.4,154.4 L481.0,154.4 L479.3,152.4 L476.6,153.1 L475.0,150.8 L472.5,150.9 L471.3,149.0 L469.5,147.4 L468.7,145.3 L466.8,143.7 L466.6,141.2 L464.6,139.8 L464.5,137.1 L462.7,135.6 L461.0,134.0 L459.5,132.2 L458.9,129.9 L457.5,128.1"/>
<path d="M467.0,95.9 L467.3,98.4 L465.6,100.7 L467.0,103.4 L465.8,105.8 L465.5,108.2 L465.8,110.8 L465.0,113.2 L463.2,114.6 L462.6,116.9 L460.8,118.3 L459.6,120.2 L458.8,122.4 L457.1,123.9 L457.5,128.1 L457.5,128.1"/>
<path d="M488.5,243.5 L486.3,244.3 L484.2,245.5 L481.9,245.8 L479.3,244.9 L477.3,246.6 L474.8,246.4 L472.9,248.2 L470.4,247.7 L468.2,248.7 L465.9,249.0 L463.7,249.9 L461.6,251.0 L459.1,250.6"/>
<path d="M460.0,508.4 L462.0,509.7 L463.8,511.1 L465.6,512.5 L466.4,515.0 L468.7,515.8 L470.2,517.6 L471.7,519.3 L474.1,518.9 L475.8,517.4 L477.8,516.4 L479.6,515.1 L480.7,512.6 L482.7,511.6 L484.3,510.0 L487.0,510.0 L488.8,508.7 L490.3,507.0 L492.3,505.9 L494.4,505.1 L496.4,504.0 L497.7,501.9 L499.9,501.2"/>
<path d="M471.2,372.5 L470.5,374.8 L471.6,377.0 L471.0,379.3 L472.0,381.5 L472.2,383.8 L470.5,386.0 L470.9,388.3 L471.0,390.5 L472.5,392.8 L472.6,395.0 L471.6,397.3 L474.4,398.5 L476.6,400.3 L478.5,402.6 L479.2,404.8 L479.4,407.1 L480.4,409.3 L480.2,411.7 L479.8,414.1 L481.1,416.2 L480.7,418.6 L482.0,420.7 L484.3,421.9 L485.9,423.7 L488.4,424.5 L489.9,426.4 L491.4,428.4 L493.7,429.4 L496.1,430.4 L496.7,433.4 L499.0,434.4"/>
<path d="M471.2,372.5 L473.6,372.2 L475.4,370.3 L477.4,368.9 L480.3,369.6 L482.3,368.2 L484.0,366.2 L486.4,365.7 L488.5,364.5 L491.0,364.4 L491.6,364.5"/>
<path d="M473.5,573.4 L474.1,570.9 L472.8,568.4 L474.3,565.8 L473.3,563.3"/>
<path d="M473.3,563.3 L475.3,562.1 L475.9,559.4 L478.4,558.8 L479.5,556.7 L481.7,555.6 L483.4,554.2 L484.2,551.7 L485.5,549.8 L488.4,549.5 L489.2,547.1 L491.6,546.3 L492.5,544.0 L496.3,543.4"/>
<path d="M498.3,435.5 L496.1,436.4 L494.0,437.6 L491.9,438.7 L490.2,440.3 L488.4,441.9 L486.9,443.9 L484.1,444.0 L482.5,445.7 L480.4,446.9 L477.9,447.3 L476.4,449.4"/>
<path d="M479.9,205.8 L481.7,207.4 L481.6,210.0 L484.1,211.2 L484.0,213.9 L484.9,216.0 L487.1,217.4 L487.7,219.7 L488.0,222.1 L489.7,223.8 L491.1,225.6 L490.7,227.8 L491.0,230.2 L491.1,232.5 L490.1,234.6 L489.7,236.8 L489.8,239.1 L489.2,241.3 L488.5,243.5"/>
<path d="M495.0,184.9 L494.3,187.3 L491.9,188.4 L490.6,190.4 L490.0,192.8 L488.6,194.7 L486.7,196.3 L485.5,198.3 L483.2,199.5 L482.9,202.2 L481.6,204.2 L479.9,205.8"/>
<path d="M488.5,243.5 L489.8,245.8 L492.7,246.2 L494.0,248.6 L495.9,250.1 L497.1,252.3 L497.0,254.9 L498.4,257.0 L498.9,259.5 L501.0,261.3 L500.8,264.0 L501.8,266.3 L502.9,268.5 L504.9,269.8 L506.4,271.7 L508.3,273.1 L511.1,273.2 L512.8,274.9 L514.6,276.3 L516.7,277.4 L518.9,278.5 L520.5,280.3 L522.5,281.5 L523.8,283.7 L526.0,284.7"/>
<path d="M491.6,364.5 L493.0,366.5 L494.9,368.1 L495.7,370.3 L496.7,372.5 L498.2,374.4 L499.8,376.2 L501.3,378.1 L502.6,380.1 L502.1,383.2 L503.8,385.0 L506.3,386.2 L506.8,388.7 L510.4,390.3 L510.6,392.7 L510.8,395.2 L512.5,397.2"/>
<path d="M516.8,346.1 L514.9,347.3 L513.7,349.4 L511.4,350.1 L509.7,351.5 L508.2,353.2 L505.9,353.9 L504.8,356.2 L501.9,355.9 L500.4,357.7 L498.6,359.0 L496.4,359.8 L495.0,361.6 L493.7,363.6 L491.6,364.5"/>
<path d="M491.9,158.1 L492.7,160.3 L493.1,162.5 L493.6,164.7 L492.2,167.1 L493.0,169.3 L493.4,172.1 L495.5,174.1 L496.2,176.8 L496.5,179.6 L495.1,182.2 L495.0,184.9"/>
<path d="M491.9,158.1 L494.4,155.2 L495.6,153.0 L496.2,150.7 L495.0,148.1 L496.8,146.0 L497.4,143.7 L497.6,141.3 L497.2,138.8 L497.3,136.4 L499.2,134.3 L498.5,131.8 L499.1,129.5 L499.8,127.2 L501.0,125.1 L501.7,122.8 L503.7,121.1 L503.7,118.4 L504.4,116.1 L506.5,114.5 L507.5,112.3 L507.7,112.1"/>
<path d="M495.0,184.9 L496.5,186.7 L497.9,188.6 L499.8,190.0 L501.2,191.9 L502.8,193.6 L505.2,194.5 L506.9,196.1 L509.1,197.1 L510.5,198.9 L511.8,201.0 L514.3,201.8 L515.0,204.3 L517.5,205.1 L518.8,207.1 L519.7,209.6 L522.7,209.7 L523.8,212.0 L526.1,211.2 L528.2,212.4"/>
<path d="M496.3,543.4 L498.5,544.1 L500.9,544.4 L502.7,546.3 L505.4,545.6 L507.0,548.2 L509.2,549.0 L511.4,549.7 L513.8,549.9 L515.2,551.9 L516.4,554.0 L518.8,553.8 L520.9,555.0 L523.3,554.9 L525.6,555.0 L527.9,555.1 L530.2,555.7 L532.4,556.5 L534.6,557.1 L536.9,557.6 L539.4,556.3 L541.7,556.9 L543.9,557.6"/>
<path d="M496.3,543.4 L496.6,541.2 L497.2,539.0 L497.1,536.7 L497.2,534.5 L497.3,532.2 L498.2,530.1 L498.9,528.0 L500.4,526.0 L500.7,523.8 L501.0,521.5 L501.6,519.4 L502.0,517.2 L501.6,514.8 L502.4,512.7 L501.2,510.2 L502.9,508.3 L502.9,506.0"/>
<path d="M498.3,435.5 L498.1,437.7 L498.8,439.9 L498.3,442.2 L497.5,444.4 L498.6,446.6 L498.3,448.8 L499.1,451.0 L499.0,453.3 L497.9,455.5 L499.8,457.7 L499.5,459.9 L498.5,462.2 L499.1,464.4 L499.9,466.6 L498.7,468.8 L499.4,471.0 L499.0,473.3 L499.2,475.5 L496.7,478.9 L496.9,481.4 L496.7,483.9 L496.7,486.4 L497.1,488.8 L497.8,491.3 L497.0,493.8 L498.6,495.7 L498.1,498.5 L499.9,500.4 L499.9,501.2"/>
<path d="M499.0,434.4 L498.3,435.5"/>
<path d="M504.2,433.0 L501.6,433.6 L499.0,434.4"/>
<path d="M502.9,506.0 L500.7,504.1 L499.9,501.2"/>
<path d="M540.7,519.0 L538.1,518.6 L535.9,520.4 L533.5,521.2 L530.8,520.7 L528.5,521.7 L525.9,521.6 L524.0,520.3 L522.1,518.9 L519.8,518.2 L518.3,516.3 L515.8,515.8 L514.4,513.8 L512.6,512.3 L510.0,512.0 L508.5,510.1 L506.2,509.4 L504.7,507.4 L502.9,506.0"/>
<path d="M504.2,433.0 L506.4,434.5 L509.0,434.7 L511.3,435.8 L513.7,436.7 L516.3,436.9 L518.3,438.2 L518.2,441.2 L520.0,442.6 L522.4,443.6 L522.5,446.3 L524.6,447.6 L526.4,449.1 L526.4,451.9 L528.4,453.2 L529.4,455.3 L531.9,456.2 L532.6,458.5 L532.7,462.5 L533.4,464.8 L536.0,466.0 L536.9,468.2 L537.9,470.4 L539.8,472.0 L539.9,474.7 L541.3,476.6"/>
<path d="M512.5,397.2 L512.6,399.6 L511.9,401.8 L510.5,403.8 L510.6,406.2 L509.1,408.2 L509.1,410.6 L508.1,412.7 L508.2,415.1 L506.9,417.1 L506.5,419.4 L507.5,422.0 L505.7,423.9 L506.1,426.4 L504.7,428.4 L504.3,430.7 L504.2,433.0"/>
<path d="M516.8,346.1 L517.2,343.6 L515.4,341.4 L515.7,338.9 L516.2,336.4 L516.4,334.0 L515.6,331.6 L513.9,329.4 L514.6,326.9 L513.4,324.8 L511.2,323.5 L510.7,321.0 L509.8,318.7 L507.9,317.1"/>
<path d="M507.9,317.1 L509.0,312.9 L509.5,310.4 L512.2,309.4 L513.0,307.1 L513.4,304.6 L514.5,302.5 L516.2,300.8 L518.1,299.2 L518.9,296.9 L519.2,294.3 L520.2,292.2 L521.6,290.3 L524.1,289.1 L524.2,286.4 L526.0,284.7"/>
<path d="M541.8,412.3 L539.8,411.1 L537.4,410.6 L535.7,408.7 L533.3,408.2 L531.0,407.6 L529.6,405.1 L527.2,404.7 L525.2,403.3 L523.3,402.0 L521.3,400.6 L518.3,401.4 L516.5,399.7 L514.2,399.0 L512.5,397.2"/>
<path d="M516.8,346.1 L518.7,347.5 L520.1,349.5 L522.1,350.7 L524.9,350.7 L526.6,352.4 L528.1,354.3 L528.3,356.9 L529.5,359.2 L530.8,361.5 L533.1,362.2 L535.2,363.3 L537.7,363.6 L539.3,365.9 L541.8,365.9 L543.6,367.8 L546.0,368.2 L548.7,368.0 L550.7,369.4 L553.0,370.1 L554.9,371.6"/>
<path d="M528.2,284.2 L526.0,284.7"/>
<path d="M535.0,285.8 L532.9,284.4 L530.5,284.5 L528.2,284.2"/>
<path d="M538.9,238.5 L539.4,240.9 L538.6,243.0 L537.7,245.1 L536.9,247.2 L536.2,249.3 L536.1,251.6 L535.6,253.8 L535.9,256.2 L534.1,258.0 L534.2,260.3 L534.3,262.7 L532.9,264.6 L531.2,266.5 L532.7,269.2 L532.0,271.3 L530.4,273.2 L530.7,275.6 L530.2,277.8 L529.2,279.8 L529.2,282.1 L528.2,284.2"/>
<path d="M528.2,212.4 L528.7,214.5 L529.5,216.6 L529.2,219.0 L529.8,221.1 L532.5,222.6 L532.1,225.0 L532.3,227.3 L532.7,229.4 L533.6,231.5 L534.6,233.5 L535.5,235.5 L537.0,237.2 L538.9,238.5"/>
<path d="M539.5,198.3 L538.3,200.3 L537.0,202.1 L534.8,203.2 L533.2,204.8 L531.7,206.5 L530.7,208.6 L529.9,210.9 L528.2,212.4"/>
<path d="M539.5,198.3 L539.6,195.8 L539.0,193.4 L538.0,191.1 L537.8,188.7 L536.7,186.4 L536.6,184.0 L535.8,181.6 L535.5,179.2 L535.6,176.6 L537.1,174.5 L538.0,172.2 L540.4,170.6 L540.3,167.9 L541.3,165.6 L539.5,164.2 L537.7,162.8 L536.1,161.2 L534.8,159.4 L532.8,158.1 L531.1,156.7 L530.8,153.8 L528.6,152.8 L527.1,151.1 L527.2,148.8 L527.7,146.5 L527.4,144.1 L527.4,141.8 L527.4,139.4 L528.1,137.1 L528.4,134.8 L529.6,132.6 L529.4,130.2 L530.5,128.0 L529.8,125.6"/>
<path d="M570.9,333.5 L568.8,332.5 L567.0,331.0 L566.2,328.5 L564.1,327.1 L562.5,325.3 L561.0,323.3 L560.5,320.9 L560.7,318.4 L560.9,315.9 L558.9,314.0 L559.1,311.4 L557.7,309.3 L557.2,307.0 L556.1,304.8 L553.1,304.4 L552.1,302.1 L551.0,299.8 L548.3,299.2 L546.6,297.6 L544.5,296.3 L543.0,294.5 L541.5,292.7 L540.4,290.4 L538.0,289.5 L536.6,287.6 L535.0,285.8"/>
<path d="M535.0,285.8 L536.7,284.0 L539.2,283.4 L541.5,282.6 L543.2,280.9 L544.7,278.8 L547.4,278.5 L549.7,277.7 L551.3,275.7 L552.7,273.5 L555.5,273.6 L557.2,271.7 L559.1,273.2 L561.6,272.9 L563.9,273.2 L566.0,274.1 L567.9,275.6 L569.8,277.1 L572.1,277.4 L574.0,278.7 L576.5,278.6 L577.8,276.4 L579.7,274.8 L582.1,273.6 L583.6,271.7 L585.1,269.7"/>
<path d="M580.9,246.9 L578.6,246.5 L576.6,245.4 L574.2,245.5 L571.8,245.6 L569.8,244.2 L567.4,244.4 L565.4,242.9 L562.8,240.5 L560.4,240.0 L558.0,240.5 L555.6,239.9 L553.3,239.5 L550.8,240.0 L548.5,239.4 L546.0,240.2 L543.8,238.0 L541.3,238.6 L538.9,238.5"/>
<path d="M539.5,198.3 L541.5,199.7 L544.0,198.0 L546.0,199.6 L548.2,200.2 L550.5,199.7 L552.8,199.5 L554.9,200.0 L557.0,201.1 L559.2,202.2 L559.9,204.9 L562.6,205.5 L563.1,208.3 L565.3,209.3 L566.8,211.2 L568.5,212.8 L570.8,212.5 L573.1,211.9 L575.4,211.7 L577.7,211.1 L579.8,210.0 L582.3,210.4 L584.3,208.9 L586.8,209.4 L589.1,209.0 L591.4,208.5 L593.5,207.1 L595.9,207.6 L598.1,206.5"/>
<path d="M550.5,550.5 L550.8,547.9 L549.0,546.0 L547.9,543.9 L547.7,541.5 L547.9,539.0 L545.5,537.2 L544.6,535.1 L544.8,532.5 L544.5,530.1 L544.1,527.8 L542.5,525.8 L543.1,523.2 L540.8,521.4 L540.7,519.0"/>
<path d="M545.7,513.1 L543.6,514.7 L543.1,517.6 L540.7,519.0"/>
<path d="M541.3,476.6 L541.5,479.1 L540.6,481.3 L540.0,483.5 L538.3,485.4 L538.9,487.5 L539.3,489.7 L540.7,491.6 L539.6,494.2 L541.4,496.0 L542.5,498.0 L543.0,500.1 L542.3,502.6 L542.5,504.8 L544.7,506.5 L545.6,508.6 L544.5,511.1 L545.7,513.1"/>
<path d="M581.0,449.3 L580.4,451.6 L577.9,452.8 L577.8,455.4 L576.4,457.3 L575.9,459.6 L574.0,461.1 L573.5,463.5 L572.7,465.7 L570.5,467.1 L571.0,469.9 L568.7,471.3 L568.9,474.0 L567.0,475.6 L564.7,475.4 L562.3,476.0 L560.0,475.1 L557.7,476.9 L555.3,475.9 L553.0,476.3 L550.6,475.3 L548.3,475.3 L546.0,476.1 L543.7,477.1 L541.3,476.6"/>
<path d="M581.0,449.3 L578.8,448.1 L577.0,446.6 L575.5,444.7 L573.4,443.5 L571.5,441.9 L570.5,439.4 L568.3,438.3 L565.6,437.8 L562.8,438.3 L560.1,437.6 L559.3,435.2 L556.5,434.8 L555.5,432.6 L553.3,431.6 L552.9,428.9 L551.3,427.2 L548.8,426.5 L548.0,424.2 L546.6,422.4 L544.2,421.6 L542.7,419.9 L541.4,418.0 L541.6,415.1 L541.8,412.3"/>
<path d="M557.8,392.2 L555.7,393.5 L555.5,396.3 L553.1,397.4 L551.8,399.4 L550.6,401.4 L548.9,403.1 L547.0,404.5 L546.7,407.2 L544.0,408.1 L543.5,410.7 L541.8,412.3"/>
<path d="M548.7,592.2 L549.0,589.8 L548.9,587.5 L547.0,585.4 L548.2,582.9 L548.2,580.5 L546.3,578.4 L545.4,576.2 L545.3,573.9 L546.9,571.3 L544.4,569.3 L546.1,566.7 L544.1,564.6 L545.1,562.1 L543.3,560.0 L543.9,557.6"/>
<path d="M550.5,550.5 L549.4,552.8 L546.9,553.8 L546.2,556.4 L543.9,557.6"/>
<path d="M607.2,490.4 L604.9,490.9 L602.6,489.7 L600.3,490.2 L598.0,490.0 L595.7,489.8 L593.5,492.0 L591.2,491.7 L588.8,490.6 L586.6,490.9 L584.3,492.4 L582.0,491.5 L579.7,492.2 L577.4,491.7 L576.7,493.8 L576.5,496.2 L575.8,498.3 L573.0,499.5 L573.5,502.2 L571.5,503.7 L572.2,506.4 L570.5,508.2 L570.4,510.5 L568.8,512.3 L566.5,512.5 L564.2,513.2 L561.9,512.1 L559.6,513.4 L557.2,512.2 L554.9,512.8 L552.7,513.7 L550.3,513.3 L548.0,513.0 L545.7,513.1"/>
<path d="M584.3,543.1 L581.3,544.4 L579.5,547.2 L577.3,547.8 L575.1,548.3 L572.7,546.9 L570.5,547.4 L568.3,548.0 L566.2,549.2 L564.0,549.7 L561.7,549.7 L559.5,550.4 L557.3,550.7 L555.0,550.0 L552.8,550.4 L550.5,550.5"/>
<path d="M554.9,371.6 L555.1,373.9 L555.8,376.1 L556.9,378.3 L555.8,380.8 L556.2,383.1 L556.7,385.3 L557.0,387.6 L557.1,390.0 L557.8,392.2 L557.8,392.2"/>
<path d="M554.9,371.6 L557.4,369.8 L558.8,367.3 L559.7,364.4"/>
<path d="M557.1,129.9 L556.0,132.0 L556.0,134.4 L555.5,136.7 L554.6,138.8 L552.8,140.7 L553.4,143.3 L552.7,145.5 L552.0,147.7 L551.9,150.1 L549.4,151.8 L550.9,154.6 L549.0,156.5 L547.6,158.5 L548.4,161.1 L547.2,163.2 L549.5,163.9 L551.9,163.8 L554.2,163.9 L556.6,164.2 L558.9,164.4 L560.9,166.4 L563.3,166.7 L565.5,167.4 L568.2,165.9 L570.3,167.3 L571.6,169.7 L573.9,171.4 L575.0,173.9 L576.9,175.9 L578.6,176.5 L580.0,178.4 L581.9,179.9 L582.3,182.6 L585.5,183.0 L585.7,185.9 L587.0,187.8 L589.1,189.2 L590.5,191.1 L591.3,193.5 L594.1,194.2 L595.0,196.6 L596.3,198.5 L598.4,199.8 L599.7,201.8"/>
<path d="M603.4,404.0 L603.0,404.2 L600.7,403.8 L598.5,404.7 L596.3,404.5 L594.1,404.4 L591.8,404.4 L589.6,405.2 L587.4,404.7 L585.1,405.0 L582.9,405.8 L580.7,405.0 L578.5,405.9 L576.2,405.5 L574.9,403.3 L572.3,402.5 L570.8,400.5 L568.6,399.3 L566.6,397.9 L564.3,396.8 L562.3,395.4 L560.9,393.2 L557.8,392.2"/>
<path d="M585.1,269.7 L585.6,267.2 L584.3,265.1 L583.9,262.9 L583.5,260.6 L583.7,258.2 L582.0,256.1 L581.5,253.9 L582.4,251.3 L581.2,249.2 L580.9,246.9"/>
<path d="M580.9,246.9 L583.2,246.2 L585.6,245.7 L587.8,244.9 L590.0,243.9 L591.4,241.3 L593.9,241.0 L596.2,240.3"/>
<path d="M596.0,451.7 L594.1,450.1 L591.9,449.2 L589.4,448.9 L586.6,449.9 L583.8,449.9 L581.0,449.3"/>
<path d="M616.9,564.4 L614.7,563.6 L612.6,562.6 L611.0,560.9 L609.6,558.8 L607.3,558.1 L605.3,557.0 L603.0,556.4 L601.4,554.6 L600.2,552.2 L598.0,551.5 L595.7,550.7 L593.9,549.4 L592.3,547.6 L590.4,546.4 L587.7,546.3 L586.4,544.0 L584.3,543.1"/>
<path d="M584.3,543.1 L584.5,540.2 L585.3,537.4 L585.7,534.5 L587.3,532.7 L589.3,531.6 L591.2,530.2 L593.1,528.9 L594.5,527.0 L596.6,525.9 L599.0,525.3 L600.2,523.0 L602.3,521.9 L604.8,521.5 L606.2,519.4 L608.1,518.2 L609.9,516.7 L612.1,515.8 L613.1,513.6"/>
<path d="M604.7,276.5 L602.8,275.0 L600.0,275.8 L598.3,274.0 L596.2,272.7 L593.6,273.3 L591.6,272.1 L589.7,270.6 L587.4,270.2 L585.1,269.7"/>
<path d="M611.2,275.6 L610.4,273.4 L609.2,271.3 L609.5,268.9 L608.8,266.7 L609.0,264.2 L607.6,262.2 L607.3,259.9 L607.3,257.5 L607.2,255.2 L605.7,253.1 L605.2,250.9 L605.1,248.5 L604.4,246.3 L602.9,244.0 L599.9,243.8 L598.9,241.0 L596.2,240.3"/>
<path d="M601.9,218.6 L600.9,220.7 L601.0,223.0 L599.8,225.0 L600.0,227.4 L600.0,229.7 L597.9,231.5 L598.2,233.9 L597.3,235.9 L596.8,238.1 L596.2,240.3"/>
<path d="M601.9,218.6 L602.0,215.9 L600.9,213.6 L598.6,211.7 L599.1,208.9 L598.1,206.5"/>
<path d="M598.1,206.5 L598.8,204.1 L599.7,201.8"/>
<path d="M612.5,156.3 L612.5,156.3 L613.0,158.7 L612.5,161.2 L613.9,163.4 L614.1,165.8 L613.6,168.3 L615.0,170.6 L615.2,173.0 L615.6,175.3 L615.3,177.8 L616.4,180.1 L614.9,182.0 L613.6,184.0 L613.1,186.4 L612.7,188.9 L610.3,190.3 L609.4,192.5 L607.8,194.3 L607.2,196.7 L605.0,197.5 L603.9,199.9 L601.9,201.0 L599.7,201.8"/>
<path d="M601.9,218.6 L604.3,218.3 L606.1,220.4 L608.6,219.5 L610.8,220.1 L612.6,222.1 L614.9,222.3 L617.3,221.8 L619.1,223.7 L621.3,224.3 L623.6,224.4 L626.0,224.1 L627.8,226.0 L630.1,226.1 L632.2,227.0 L634.4,227.4"/>
</g>
<path d="M385.0,13.5 L387.3,20.0 L388.2,29.0 L388.2,34.6 L394.6,38.3 L403.8,37.4 L411.1,36.5 L416.6,40.1 L419.3,47.4 L423.0,54.7 L429.4,55.6 L434.8,58.4 L438.5,63.9 L440.3,68.4 L447.6,68.4 L455.0,68.4 L460.4,73.0 L462.3,78.5 L460.4,84.0 L461.4,91.3 L465.9,95.0 L475.0,95.9 L482.4,93.1 L487.9,89.5 L489.7,84.0 L493.3,81.2 L495.2,84.0 L493.3,89.5 L494.3,98.6 L497.0,105.9 L504.3,109.6 L511.6,113.2 L517.1,118.7 L520.7,121.7 L530.7,125.0 L540.7,123.3 L550.7,128.3 L564.0,130.0 L577.3,140.0 L590.7,148.3 L604.0,153.3 L617.3,156.7 L630.7,156.7 L644.0,158.3 L657.3,160.0 L654.0,170.0 L647.3,183.3 L640.7,200.0 L637.3,216.7 L634.0,233.3 L635.7,246.7 L632.0,256.2 L630.6,267.0 L626.6,272.4 L619.8,275.1 L613.1,276.4 L606.3,276.4 L602.3,279.1 L607.7,283.2 L603.6,288.6 L595.6,294.0 L590.2,300.7 L583.4,310.2 L581.5,317.0 L579.5,324.0 L575.5,330.0 L570.0,335.5 L566.5,341.0 L565.0,348.0 L566.0,354.0 L563.0,358.0 L560.0,362.0 L561.0,367.0 L564.5,369.5 L570.0,368.3 L573.1,365.2 L572.1,361.0 L575.2,357.8 L580.5,356.8 L584.7,353.6 L598.3,353.6 L599.9,356.8 L601.5,361.0 L602.5,364.1 L600.4,371.5 L604.6,374.6 L605.7,378.8 L609.9,382.0 L613.0,386.2 L612.0,391.4 L607.8,393.5 L603.6,395.6 L601.5,398.8 L601.5,400.9 L605.7,405.1 L609.9,408.2 L612.0,411.0 L612.8,415.6 L616.4,421.6 L622.4,425.8 L620.6,431.2 L620.0,436.0 L616.4,439.6 L611.6,442.0 L608.0,444.4 L603.2,445.6 L598.4,447.4 L596.0,449.2 L597.2,452.8 L600.8,456.4 L603.2,461.2 L606.8,464.7 L611.6,467.1 L615.2,470.7 L617.6,475.5 L618.5,478.0 L612.7,482.5 L608.4,488.2 L607.0,495.4 L604.1,503.9 L601.3,508.2 L607.0,511.0 L617.0,513.9 L631.2,516.7 L645.5,516.7 L654.0,518.2 L654.0,526.7 L647.3,540.0 L638.3,548.6 L626.8,557.2 L618.2,564.4 L609.5,571.6 L603.8,577.4 L601.0,586.0 L595.2,591.7 L586.6,596.0 L577.9,594.6 L569.3,597.5 L560.7,600.3 L555.0,596.0 L549.2,593.2 L540.6,590.3 L535.9,590.4 L532.8,583.4 L526.5,582.6 L520.3,579.5 L517.1,574.8 L514.0,573.2 L507.7,577.9 L504.6,582.6 L498.3,581.8 L490.5,580.2 L487.4,576.3 L479.5,574.8 L471.7,574.0 L467.0,570.8 L462.3,567.7 L457.6,568.5 L451.3,573.2 L443.5,578.7 L435.7,584.2 L427.8,587.3 L420.0,590.4 L413.3,601.7 L410.0,611.7 L410.0,625.0 L411.7,638.3 L415.0,648.3 L410.0,646.7 L400.0,648.3 L386.7,650.0 L376.7,652.3 L366.7,655.0 L356.7,653.3 L346.7,646.7 L336.7,641.7 L323.3,636.7 L313.3,631.7 L306.7,626.7 L296.7,621.7 L286.7,618.3 L280.0,625.0 L270.0,628.3 L263.3,623.3 L253.3,620.0 L243.3,621.7 L233.3,618.3 L226.7,616.7 L216.7,620.0 L210.0,616.7 L203.3,610.0 L193.3,605.0 L183.3,601.7 L173.3,596.7 L168.3,595.0 L166.7,585.0 L163.3,578.3 L156.7,575.0 L151.7,573.3 L161.7,566.7 L166.7,561.7 L175.0,548.3 L180.0,531.7 L183.3,511.7 L186.0,495.0 L187.3,478.3 L188.3,465.0 L190.0,445.0 L190.0,433.3 L191.7,415.0 L200.0,421.7 L208.3,433.3 L211.7,439.3 L213.3,438.3 L210.0,430.0 L203.3,420.0 L195.4,416.0 L194.0,411.4 L191.0,407.0 L189.4,402.4 L191.0,398.0 L192.4,393.4 L195.4,387.4 L197.0,383.0 L197.0,380.0 L194.7,375.4 L191.0,371.7 L192.4,368.0 L195.4,363.4 L194.0,359.7 L189.4,361.2 L185.0,359.0 L179.0,356.0 L173.0,351.5 L167.0,347.0 L161.0,342.5 L159.5,336.5 L156.4,330.0 L152.0,324.0 L147.4,318.0 L146.0,313.4 L147.4,309.0 L150.4,306.0 L153.4,303.0 L147.4,297.0 L144.4,295.4 L149.0,291.0 L155.0,289.0 L149.0,287.0 L143.0,286.0 L137.0,286.4 L131.0,285.0 L128.0,282.0 L129.4,277.5 L131.7,274.3 L126.7,269.3 L120.0,267.7 L113.3,262.7 L106.7,261.0 L100.0,254.3 L93.3,251.0 L86.7,247.7 L76.7,246.0 L66.7,242.7 L53.3,241.0 L41.7,239.3 L40.0,232.7 L46.7,226.0 L36.7,222.7 L26.7,219.3 L30.0,211.0 L36.7,207.7 L48.3,204.3 L43.3,199.3 L33.3,202.7 L31.7,196.0 L25.0,189.3 L26.7,182.7 L36.7,179.3 L50.0,176.0 L60.0,174.3 L70.0,174.3 L80.0,176.0 L83.3,172.7 L90.0,167.7 L96.7,167.7 L106.7,166.0 L113.3,167.7 L115.0,177.7 L120.0,182.7 L126.7,184.3 L133.3,186.0 L140.0,191.0 L146.7,187.7 L156.7,187.7 L166.7,183.7 L173.8,186.9 L184.7,189.6 L190.2,186.9 L186.6,181.4 L183.8,174.1 L182.9,166.8 L183.8,159.5 L183.8,152.2 L179.3,143.0 L173.8,133.9 L172.9,124.7 L171.0,115.6 L169.2,107.4 L173.8,111.0 L181.1,112.9 L186.6,112.9 L192.0,110.1 L199.4,111.0 L202.1,114.7 L201.2,119.3 L203.0,126.6 L204.8,132.0 L208.5,133.9 L215.8,133.9 L223.1,135.7 L232.3,137.5 L241.4,139.4 L248.7,141.2 L256.0,139.4 L262.0,134.4 L264.4,128.0 L266.0,120.0 L270.3,113.2 L278.5,108.5 L289.1,103.8 L302.0,100.3 L313.8,97.9 L323.2,93.2 L330.2,87.4 L333.0,85.5 L338.7,76.7 L339.3,66.7 L338.7,43.3 L340.3,30.0 L348.7,23.3 L368.7,15.0Z" fill="none" stroke="#111" stroke-width="1.2" stroke-linejoin="round"/>
<g fill="#000"><circle cx="315" cy="97.3" r="3.4"/><circle cx="264.7" cy="126.7" r="3.4"/><circle cx="318.6" cy="138.1" r="3.4"/><circle cx="238.9" cy="150.2" r="3.4"/><circle cx="190.3" cy="157.5" r="3.4"/><circle cx="209.8" cy="158.7" r="3.4"/><circle cx="259.5" cy="165.1" r="3.4"/><circle cx="319.1" cy="164.2" r="3.4"/><circle cx="374.9" cy="15.9" r="3.4"/><circle cx="385.4" cy="31.9" r="3.4"/><circle cx="340.2" cy="39.2" r="3.4"/><circle cx="364" cy="52.3" r="3.4"/><circle cx="410.2" cy="51.1" r="3.4"/><circle cx="340.2" cy="54.8" r="3.4"/><circle cx="427.2" cy="69.6" r="3.4"/><circle cx="399.2" cy="73.7" r="3.4"/><circle cx="383.9" cy="77.4" r="3.4"/><circle cx="412.6" cy="77.4" r="3.4"/><circle cx="366.4" cy="83.4" r="3.4"/><circle cx="350.6" cy="83.4" r="3.4"/><circle cx="347" cy="96.8" r="3.4"/><circle cx="411.4" cy="93.2" r="3.4"/><circle cx="376.2" cy="103.4" r="3.4"/><circle cx="406.5" cy="102.4" r="3.4"/><circle cx="414.5" cy="106.5" r="3.4"/><circle cx="483" cy="108.5" r="3.4"/><circle cx="335.3" cy="121.1" r="3.4"/><circle cx="374.9" cy="119.4" r="3.4"/><circle cx="383.9" cy="124.2" r="3.4"/><circle cx="415" cy="120.6" r="3.4"/><circle cx="434.9" cy="124" r="3.4"/><circle cx="453.9" cy="125.2" r="3.4"/><circle cx="490.3" cy="127.2" r="3.4"/><circle cx="363.5" cy="132.7" r="3.4"/><circle cx="410.2" cy="132" r="3.4"/><circle cx="430.8" cy="141" r="3.4"/><circle cx="445.4" cy="153.4" r="3.4"/><circle cx="473.9" cy="170.3" r="3.4"/><circle cx="382.6" cy="165.8" r="3.4"/><circle cx="377.7" cy="169.9" r="3.4"/><circle cx="528.9" cy="129.6" r="3.4"/><circle cx="509" cy="145.4" r="3.4"/><circle cx="493.2" cy="145.4" r="3.4"/><circle cx="553.2" cy="147.8" r="3.4"/><circle cx="536.9" cy="160.3" r="3.4"/><circle cx="557.1" cy="158.7" r="3.4"/><circle cx="563.4" cy="165.4" r="3.4"/><circle cx="595.2" cy="163.9" r="3.4"/><circle cx="89.8" cy="170.9" r="3.4"/><circle cx="55.8" cy="186.2" r="3.4"/><circle cx="69.6" cy="189.1" r="3.4"/><circle cx="42.4" cy="191.1" r="3.4"/><circle cx="118.9" cy="190.8" r="3.4"/><circle cx="140.1" cy="193.3" r="3.4"/><circle cx="157.8" cy="189.6" r="3.4"/><circle cx="58.2" cy="207.9" r="3.4"/><circle cx="95.1" cy="211.5" r="3.4"/><circle cx="68.7" cy="221.5" r="3.4"/><circle cx="51.7" cy="227.5" r="3.4"/><circle cx="112.9" cy="225.6" r="3.4"/><circle cx="121.9" cy="238.9" r="3.4"/><circle cx="138.4" cy="235.8" r="3.4"/><circle cx="86.2" cy="245" r="3.4"/><circle cx="146.9" cy="282.7" r="3.4"/><circle cx="216.1" cy="173.4" r="3.4"/><circle cx="304" cy="177.5" r="3.4"/><circle cx="259.1" cy="186" r="3.4"/><circle cx="204.9" cy="194" r="3.4"/><circle cx="224.4" cy="199.3" r="3.4"/><circle cx="326.4" cy="191.6" r="3.4"/><circle cx="319.8" cy="198.1" r="3.4"/><circle cx="179.7" cy="210.3" r="3.4"/><circle cx="199.6" cy="210.3" r="3.4"/><circle cx="248.2" cy="204.2" r="3.4"/><circle cx="263.5" cy="206.2" r="3.4"/><circle cx="228.2" cy="214.7" r="3.4"/><circle cx="285.8" cy="211.5" r="3.4"/><circle cx="172.4" cy="228.7" r="3.4"/><circle cx="220.2" cy="234.1" r="3.4"/><circle cx="324.7" cy="235.8" r="3.4"/><circle cx="266.4" cy="242.6" r="3.4"/><circle cx="169.9" cy="249.9" r="3.4"/><circle cx="240.4" cy="249.1" r="3.4"/><circle cx="310.1" cy="254.7" r="3.4"/><circle cx="316.7" cy="263.2" r="3.4"/><circle cx="279.7" cy="266.9" r="3.4"/><circle cx="179.7" cy="277.3" r="3.4"/><circle cx="226.3" cy="274.6" r="3.4"/><circle cx="293.1" cy="280.2" r="3.4"/><circle cx="174.1" cy="296.5" r="3.4"/><circle cx="250.6" cy="292.4" r="3.4"/><circle cx="246.9" cy="300.9" r="3.4"/><circle cx="224.4" cy="313.5" r="3.4"/><circle cx="244.5" cy="311.1" r="3.4"/><circle cx="325.4" cy="313.5" r="3.4"/><circle cx="353.1" cy="178.2" r="3.4"/><circle cx="356.7" cy="183.6" r="3.4"/><circle cx="361.6" cy="185.5" r="3.4"/><circle cx="365.2" cy="183.1" r="3.4"/><circle cx="415" cy="187.2" r="3.4"/><circle cx="433.2" cy="186.7" r="3.4"/><circle cx="483" cy="188.7" r="3.4"/><circle cx="372.5" cy="196.4" r="3.4"/><circle cx="389.5" cy="195.9" r="3.4"/><circle cx="332.9" cy="205.7" r="3.4"/><circle cx="441.7" cy="203.2" r="3.4"/><circle cx="466" cy="195.2" r="3.4"/><circle cx="429.6" cy="208.1" r="3.4"/><circle cx="456.3" cy="216.4" r="3.4"/><circle cx="478.2" cy="213" r="3.4"/><circle cx="471.4" cy="221.9" r="3.4"/><circle cx="407.2" cy="214.7" r="3.4"/><circle cx="374.9" cy="217.1" r="3.4"/><circle cx="420.4" cy="226.1" r="3.4"/><circle cx="444.2" cy="226.8" r="3.4"/><circle cx="366.4" cy="229.2" r="3.4"/><circle cx="345.1" cy="241.4" r="3.4"/><circle cx="383" cy="239.7" r="3.4"/><circle cx="451" cy="238.9" r="3.4"/><circle cx="487.9" cy="236.5" r="3.4"/><circle cx="332.4" cy="246.2" r="3.4"/><circle cx="415" cy="256.7" r="3.4"/><circle cx="433.2" cy="253.5" r="3.4"/><circle cx="466" cy="251.8" r="3.4"/><circle cx="484.2" cy="251.1" r="3.4"/><circle cx="376.2" cy="277.8" r="3.4"/><circle cx="339.7" cy="291.2" r="3.4"/><circle cx="448.5" cy="294.8" r="3.4"/><circle cx="347" cy="303.3" r="3.4"/><circle cx="373.1" cy="310.2" r="3.4"/><circle cx="388.3" cy="310.6" r="3.4"/><circle cx="452.7" cy="308.2" r="3.4"/><circle cx="469.7" cy="315.5" r="3.4"/><circle cx="411.4" cy="314.2" r="3.4"/><circle cx="615.9" cy="178.2" r="3.4"/><circle cx="523.1" cy="183.6" r="3.4"/><circle cx="562.9" cy="187.2" r="3.4"/><circle cx="550.3" cy="195.7" r="3.4"/><circle cx="596.4" cy="199.6" r="3.4"/><circle cx="632.9" cy="193.5" r="3.4"/><circle cx="498.8" cy="193.5" r="3.4"/><circle cx="523.1" cy="205.4" r="3.4"/><circle cx="559.5" cy="215.9" r="3.4"/><circle cx="575.8" cy="221.9" r="3.4"/><circle cx="626.1" cy="214.7" r="3.4"/><circle cx="619.5" cy="230.4" r="3.4"/><circle cx="624.4" cy="239.7" r="3.4"/><circle cx="618.3" cy="253.5" r="3.4"/><circle cx="615.9" cy="262" r="3.4"/><circle cx="630.9" cy="263.2" r="3.4"/><circle cx="596.9" cy="266.1" r="3.4"/><circle cx="618.8" cy="276.1" r="3.4"/><circle cx="507.8" cy="254.7" r="3.4"/><circle cx="521.6" cy="250.4" r="3.4"/><circle cx="535.2" cy="254.2" r="3.4"/><circle cx="572.6" cy="252.3" r="3.4"/><circle cx="549.8" cy="259.1" r="3.4"/><circle cx="563.2" cy="264.9" r="3.4"/><circle cx="515.8" cy="272.9" r="3.4"/><circle cx="510.9" cy="292.4" r="3.4"/><circle cx="555.6" cy="293.1" r="3.4"/><circle cx="498.8" cy="310.1" r="3.4"/><circle cx="527.9" cy="308.2" r="3.4"/><circle cx="531.3" cy="305.7" r="3.4"/><circle cx="173.2" cy="321.9" r="3.4"/><circle cx="228.4" cy="322.9" r="3.4"/><circle cx="241.2" cy="322.4" r="3.4"/><circle cx="183.4" cy="330.2" r="3.4"/><circle cx="200.4" cy="331.7" r="3.4"/><circle cx="212.1" cy="326.1" r="3.4"/><circle cx="170.1" cy="335.8" r="3.4"/><circle cx="241.2" cy="337" r="3.4"/><circle cx="266" cy="335.1" r="3.4"/><circle cx="287.9" cy="335.8" r="3.4"/><circle cx="268.5" cy="343.1" r="3.4"/><circle cx="196.8" cy="349.6" r="3.4"/><circle cx="229.1" cy="350.4" r="3.4"/><circle cx="250.2" cy="348.7" r="3.4"/><circle cx="258.7" cy="352.8" r="3.4"/><circle cx="232" cy="360.8" r="3.4"/><circle cx="273.3" cy="361.8" r="3.4"/><circle cx="202.9" cy="358.9" r="3.4"/><circle cx="244.2" cy="369.8" r="3.4"/><circle cx="251.4" cy="365.7" r="3.4"/><circle cx="216.2" cy="373" r="3.4"/><circle cx="267.2" cy="373.4" r="3.4"/><circle cx="199.2" cy="383.6" r="3.4"/><circle cx="230.3" cy="382.7" r="3.4"/><circle cx="200.9" cy="391.7" r="3.4"/><circle cx="234.9" cy="394.8" r="3.4"/><circle cx="217.4" cy="402.6" r="3.4"/><circle cx="234" cy="408.7" r="3.4"/><circle cx="279.4" cy="401.4" r="3.4"/><circle cx="256.3" cy="411.8" r="3.4"/><circle cx="228.4" cy="424.4" r="3.4"/><circle cx="242.5" cy="423.2" r="3.4"/><circle cx="266" cy="432.5" r="3.4"/><circle cx="234.9" cy="441" r="3.4"/><circle cx="249.7" cy="439" r="3.4"/><circle cx="284.2" cy="447.5" r="3.4"/><circle cx="212.6" cy="468.7" r="3.4"/><circle cx="249.7" cy="468.7" r="3.4"/><circle cx="275.3" cy="472.5" r="3.4"/><circle cx="341.8" cy="324.4" r="3.4"/><circle cx="394" cy="321.2" r="3.4"/><circle cx="307.1" cy="339.9" r="3.4"/><circle cx="316.8" cy="336.5" r="3.4"/><circle cx="333.8" cy="338.2" r="3.4"/><circle cx="344.2" cy="338.9" r="3.4"/><circle cx="353.9" cy="343.1" r="3.4"/><circle cx="357.6" cy="351.6" r="3.4"/><circle cx="333.8" cy="354.5" r="3.4"/><circle cx="403.2" cy="335.1" r="3.4"/><circle cx="441.4" cy="347.9" r="3.4"/><circle cx="296.4" cy="355.2" r="3.4"/><circle cx="365.4" cy="356.9" r="3.4"/><circle cx="366.1" cy="362.5" r="3.4"/><circle cx="307.8" cy="371" r="3.4"/><circle cx="313.4" cy="371.5" r="3.4"/><circle cx="327.2" cy="369.8" r="3.4"/><circle cx="426.1" cy="375.4" r="3.4"/><circle cx="379.9" cy="386.1" r="3.4"/><circle cx="340.1" cy="391.2" r="3.4"/><circle cx="364.4" cy="390.9" r="3.4"/><circle cx="363.7" cy="396.5" r="3.4"/><circle cx="299.3" cy="394.1" r="3.4"/><circle cx="311.9" cy="397.2" r="3.4"/><circle cx="413" cy="403.8" r="3.4"/><circle cx="412.2" cy="414.7" r="3.4"/><circle cx="301.2" cy="412.3" r="3.4"/><circle cx="427.5" cy="439" r="3.4"/><circle cx="340.1" cy="442.7" r="3.4"/><circle cx="326" cy="449.2" r="3.4"/><circle cx="301.7" cy="465.3" r="3.4"/><circle cx="375.8" cy="468.7" r="3.4"/><circle cx="298.1" cy="475.5" r="3.4"/><circle cx="321.3" cy="479.8" r="3.4"/><circle cx="532.9" cy="335.1" r="3.4"/><circle cx="497.2" cy="364.9" r="3.4"/><circle cx="483.1" cy="371" r="3.4"/><circle cx="511.8" cy="383.6" r="3.4"/><circle cx="525.7" cy="388" r="3.4"/><circle cx="495.7" cy="388.6" r="3.4"/><circle cx="499.7" cy="388.5" r="3.4"/><circle cx="565.7" cy="391.7" r="3.4"/><circle cx="544.4" cy="402.1" r="3.4"/><circle cx="505.5" cy="407" r="3.4"/><circle cx="513.5" cy="405.5" r="3.4"/><circle cx="469.1" cy="407" r="3.4"/><circle cx="554.8" cy="411.8" r="3.4"/><circle cx="558.9" cy="417.2" r="3.4"/><circle cx="480.2" cy="413.5" r="3.4"/><circle cx="461.8" cy="415.9" r="3.4"/><circle cx="472.9" cy="421.5" r="3.4"/><circle cx="525.7" cy="432.2" r="3.4"/><circle cx="491.6" cy="442.7" r="3.4"/><circle cx="525.7" cy="448.7" r="3.4"/><circle cx="503.8" cy="455.5" r="3.4"/><circle cx="511.8" cy="455.5" r="3.4"/><circle cx="492.9" cy="459.7" r="3.4"/><circle cx="525.7" cy="458.9" r="3.4"/><circle cx="511.8" cy="467" r="3.4"/><circle cx="504.9" cy="473.6" r="3.4"/><circle cx="527.9" cy="475.8" r="3.4"/><circle cx="188.1" cy="490.2" r="3.4"/><circle cx="230.4" cy="490.9" r="3.4"/><circle cx="257.1" cy="482.9" r="3.4"/><circle cx="205.1" cy="507.2" r="3.4"/><circle cx="201.9" cy="518.9" r="3.4"/><circle cx="278" cy="520.1" r="3.4"/><circle cx="256.1" cy="525.7" r="3.4"/><circle cx="218.9" cy="537.1" r="3.4"/><circle cx="265.8" cy="535.4" r="3.4"/><circle cx="289.4" cy="539.5" r="3.4"/><circle cx="266.3" cy="545.1" r="3.4"/><circle cx="188.1" cy="552.4" r="3.4"/><circle cx="175.2" cy="560.2" r="3.4"/><circle cx="162.3" cy="567" r="3.4"/><circle cx="239.6" cy="559.7" r="3.4"/><circle cx="256.6" cy="560.2" r="3.4"/><circle cx="277.2" cy="555.8" r="3.4"/><circle cx="291.8" cy="560.9" r="3.4"/><circle cx="266.3" cy="568.2" r="3.4"/><circle cx="215.8" cy="567.9" r="3.4"/><circle cx="222.1" cy="576.7" r="3.4"/><circle cx="212.4" cy="580.1" r="3.4"/><circle cx="189.1" cy="578.4" r="3.4"/><circle cx="238.4" cy="571.8" r="3.4"/><circle cx="245.7" cy="571.8" r="3.4"/><circle cx="246.9" cy="577.2" r="3.4"/><circle cx="272.4" cy="585.7" r="3.4"/><circle cx="243.2" cy="591.7" r="3.4"/><circle cx="212.4" cy="592.2" r="3.4"/><circle cx="264.4" cy="597.1" r="3.4"/><circle cx="311.2" cy="509.6" r="3.4"/><circle cx="353.5" cy="507.2" r="3.4"/><circle cx="370.5" cy="506.2" r="3.4"/><circle cx="406.4" cy="526.2" r="3.4"/><circle cx="319.5" cy="531.5" r="3.4"/><circle cx="344.5" cy="543.6" r="3.4"/><circle cx="359.1" cy="541.2" r="3.4"/><circle cx="344.5" cy="557.2" r="3.4"/><circle cx="319" cy="560.6" r="3.4"/><circle cx="312.2" cy="573.5" r="3.4"/><circle cx="333.6" cy="576.7" r="3.4"/><circle cx="351.8" cy="573.5" r="3.4"/><circle cx="350.6" cy="579.6" r="3.4"/><circle cx="349.4" cy="585.7" r="3.4"/><circle cx="413.7" cy="573.5" r="3.4"/><circle cx="452.1" cy="555.3" r="3.4"/><circle cx="457.5" cy="565.5" r="3.4"/><circle cx="368.8" cy="592.9" r="3.4"/><circle cx="357.4" cy="599.5" r="3.4"/><circle cx="331.1" cy="599" r="3.4"/><circle cx="303.9" cy="606.8" r="3.4"/><circle cx="398.7" cy="627" r="3.4"/><circle cx="404" cy="634.2" r="3.4"/><circle cx="478.1" cy="494.3" r="3.4"/><circle cx="497.5" cy="491.4" r="3.4"/><circle cx="495.1" cy="506.9" r="3.4"/><circle cx="566" cy="498.7" r="3.4"/><circle cx="555.1" cy="508.9" r="3.4"/><circle cx="476.6" cy="518.1" r="3.4"/><circle cx="504.1" cy="523.4" r="3.4"/><circle cx="515.5" cy="527.8" r="3.4"/><circle cx="564.1" cy="527.8" r="3.4"/><circle cx="564.8" cy="543.4" r="3.4"/><circle cx="558.2" cy="550.2" r="3.4"/><circle cx="507.2" cy="540.9" r="3.4"/><circle cx="480.5" cy="544.1" r="3.4"/><circle cx="493.1" cy="547.2" r="3.4"/><circle cx="545.4" cy="557.9" r="3.4"/><circle cx="467.6" cy="561.8" r="3.4"/><circle cx="518.7" cy="562.3" r="3.4"/><circle cx="495.1" cy="569.6" r="3.4"/><circle cx="509.7" cy="568.4" r="3.4"/><circle cx="535.7" cy="567.6" r="3.4"/><circle cx="525.9" cy="574.4" r="3.4"/><circle cx="550.2" cy="574" r="3.4"/><circle cx="587.4" cy="576.4" r="3.4"/><circle cx="617" cy="563.5" r="3.4"/><circle cx="607.3" cy="572" r="3.4"/></g>
<g><circle cx="408.6" cy="460.4" r="3.4" fill="#1a1a40"/><path d="M404.6,460.4h8M408.6,456.4v8" stroke="#d8c8a0" stroke-width="1"/><circle cx="445" cy="456" r="3.4" fill="#1a1a40"/><path d="M441.0,456.0h8M445.0,452.0v8" stroke="#d8c8a0" stroke-width="1"/><circle cx="398.7" cy="523.7" r="3.4" fill="#1a1a40"/><path d="M394.7,523.7h8M398.7,519.7v8" stroke="#d8c8a0" stroke-width="1"/><circle cx="421" cy="516.4" r="3.4" fill="#1a1a40"/><path d="M417.0,516.4h8M421.0,512.4v8" stroke="#d8c8a0" stroke-width="1"/><circle cx="547.8" cy="482.6" r="3.4" fill="#1a1a40"/><path d="M543.8,482.6h8M547.8,478.6v8" stroke="#d8c8a0" stroke-width="1"/><circle cx="590.3" cy="488.9" r="3.4" fill="#1a1a40"/><path d="M586.3,488.9h8M590.3,484.9v8" stroke="#d8c8a0" stroke-width="1"/><circle cx="538.1" cy="528.8" r="3.4" fill="#1a1a40"/><path d="M534.1,528.8h8M538.1,524.8v8" stroke="#d8c8a0" stroke-width="1"/><circle cx="574.7" cy="318.3" r="3.4" fill="#1a1a40"/><path d="M570.7,318.3h8M574.7,314.3v8" stroke="#d8c8a0" stroke-width="1"/></g>
<g font-size="12">
<rect x="667.5" y="13.3" width="21.5" height="66.5" fill="#313695"/>
<rect x="667.5" y="79.8" width="21.5" height="66.7" fill="#4575b4"/>
<rect x="667.5" y="146.5" width="21.5" height="55.5" fill="#74add1"/>
<rect x="667.5" y="202" width="21.5" height="66.5" fill="#abd9e9"/>
<rect x="667.5" y="268.5" width="21.5" height="66.80000000000001" fill="#e0f3f8"/>
<rect x="667.5" y="335.3" width="21.5" height="66.5" fill="#fee090"/>
<rect x="667.5" y="401.8" width="21.5" height="67.39999999999998" fill="#fdae61"/>
<rect x="667.5" y="469.2" width="21.5" height="55.099999999999966" fill="#f46d43"/>
<rect x="667.5" y="524.3" width="21.5" height="66.5" fill="#d73027"/>
<rect x="667.5" y="590.8" width="21.5" height="66.20000000000005" fill="#a50026"/>
<rect x="667.5" y="13.5" width="21.5" height="643.5" fill="none" stroke="#333" stroke-width="1"/>
<line x1="689" y1="13.3" x2="694" y2="13.3" stroke="#333" stroke-width="1"/>
<text x="700.7" y="18.3" textLength="28.3" lengthAdjust="spacingAndGlyphs" stroke="#111" stroke-width="0.3">19/04</text>
<line x1="689" y1="79.8" x2="694" y2="79.8" stroke="#333" stroke-width="1"/>
<text x="700.7" y="84.8" textLength="28.3" lengthAdjust="spacingAndGlyphs" stroke="#111" stroke-width="0.3">13/04</text>
<line x1="689" y1="146.5" x2="694" y2="146.5" stroke="#333" stroke-width="1"/>
<text x="700.7" y="151.5" textLength="28.3" lengthAdjust="spacingAndGlyphs" stroke="#111" stroke-width="0.3">07/04</text>
<line x1="689" y1="202" x2="694" y2="202" stroke="#333" stroke-width="1"/>
<text x="700.7" y="207.0" textLength="28.3" lengthAdjust="spacingAndGlyphs" stroke="#111" stroke-width="0.3">02/04</text>
<line x1="689" y1="268.5" x2="694" y2="268.5" stroke="#333" stroke-width="1"/>
<text x="700.7" y="273.5" textLength="28.3" lengthAdjust="spacingAndGlyphs" stroke="#111" stroke-width="0.3">27/03</text>
<line x1="689" y1="335.3" x2="694" y2="335.3" stroke="#333" stroke-width="1"/>
<text x="700.7" y="340.3" textLength="28.3" lengthAdjust="spacingAndGlyphs" stroke="#111" stroke-width="0.3">21/03</text>
<line x1="689" y1="401.8" x2="694" y2="401.8" stroke="#333" stroke-width="1"/>
<text x="700.7" y="406.8" textLength="28.3" lengthAdjust="spacingAndGlyphs" stroke="#111" stroke-width="0.3">15/03</text>
<line x1="689" y1="469.2" x2="694" y2="469.2" stroke="#333" stroke-width="1"/>
<text x="700.7" y="474.2" textLength="28.3" lengthAdjust="spacingAndGlyphs" stroke="#111" stroke-width="0.3">09/03</text>
<line x1="689" y1="524.3" x2="694" y2="524.3" stroke="#333" stroke-width="1"/>
<text x="700.7" y="529.3" textLength="28.3" lengthAdjust="spacingAndGlyphs" stroke="#111" stroke-width="0.3">04/03</text>
<line x1="689" y1="590.8" x2="694" y2="590.8" stroke="#333" stroke-width="1"/>
<text x="700.7" y="595.8" textLength="28.3" lengthAdjust="spacingAndGlyphs" stroke="#111" stroke-width="0.3">26/02</text>
<line x1="689" y1="657" x2="694" y2="657" stroke="#333" stroke-width="1"/>
<text x="700.7" y="662.0" textLength="28.3" lengthAdjust="spacingAndGlyphs" stroke="#111" stroke-width="0.3">20/02</text>
</g>
<line x1="71.4" y1="590.8" x2="138" y2="590.8" stroke="#000" stroke-width="3.4"/>
<text x="92.2" y="615.2" font-size="9" textLength="24.8" lengthAdjust="spacingAndGlyphs">98 km</text>
<text x="54.9" y="631.7" font-size="9" textLength="98.7" lengthAdjust="spacingAndGlyphs" fill="#000" stroke="#000" stroke-width="0.25">nombre do stations : 357</text>
<text x="23.6" y="638.8" font-size="7.2" textLength="161.9" lengthAdjust="spacingAndGlyphs" fill="#444">Orgine dos donnees : ARVALIS - Meteo-France</text>
<text x="570.7" y="622.2" font-size="9.4" textLength="47.5" lengthAdjust="spacingAndGlyphs" fill="#222">Auteur : CG</text>
<text x="572.2" y="635.3" font-size="9.2" textLength="44.4" lengthAdjust="spacingAndGlyphs" fill="#222">17/03/2022</text>
<line x1="607.1" y1="15" x2="607.1" y2="78.6" stroke="#000" stroke-width="3.2"/>
<path d="M600.7,24.6 L607.1,14.8 L613.3,24.6" fill="none" stroke="#000" stroke-width="2.2"/>
<text x="590.6" y="63.6" font-size="44.5" font-weight="bold" fill="#000" stroke="#000" stroke-width="0.8">N</text>
</svg>
</body></html>
